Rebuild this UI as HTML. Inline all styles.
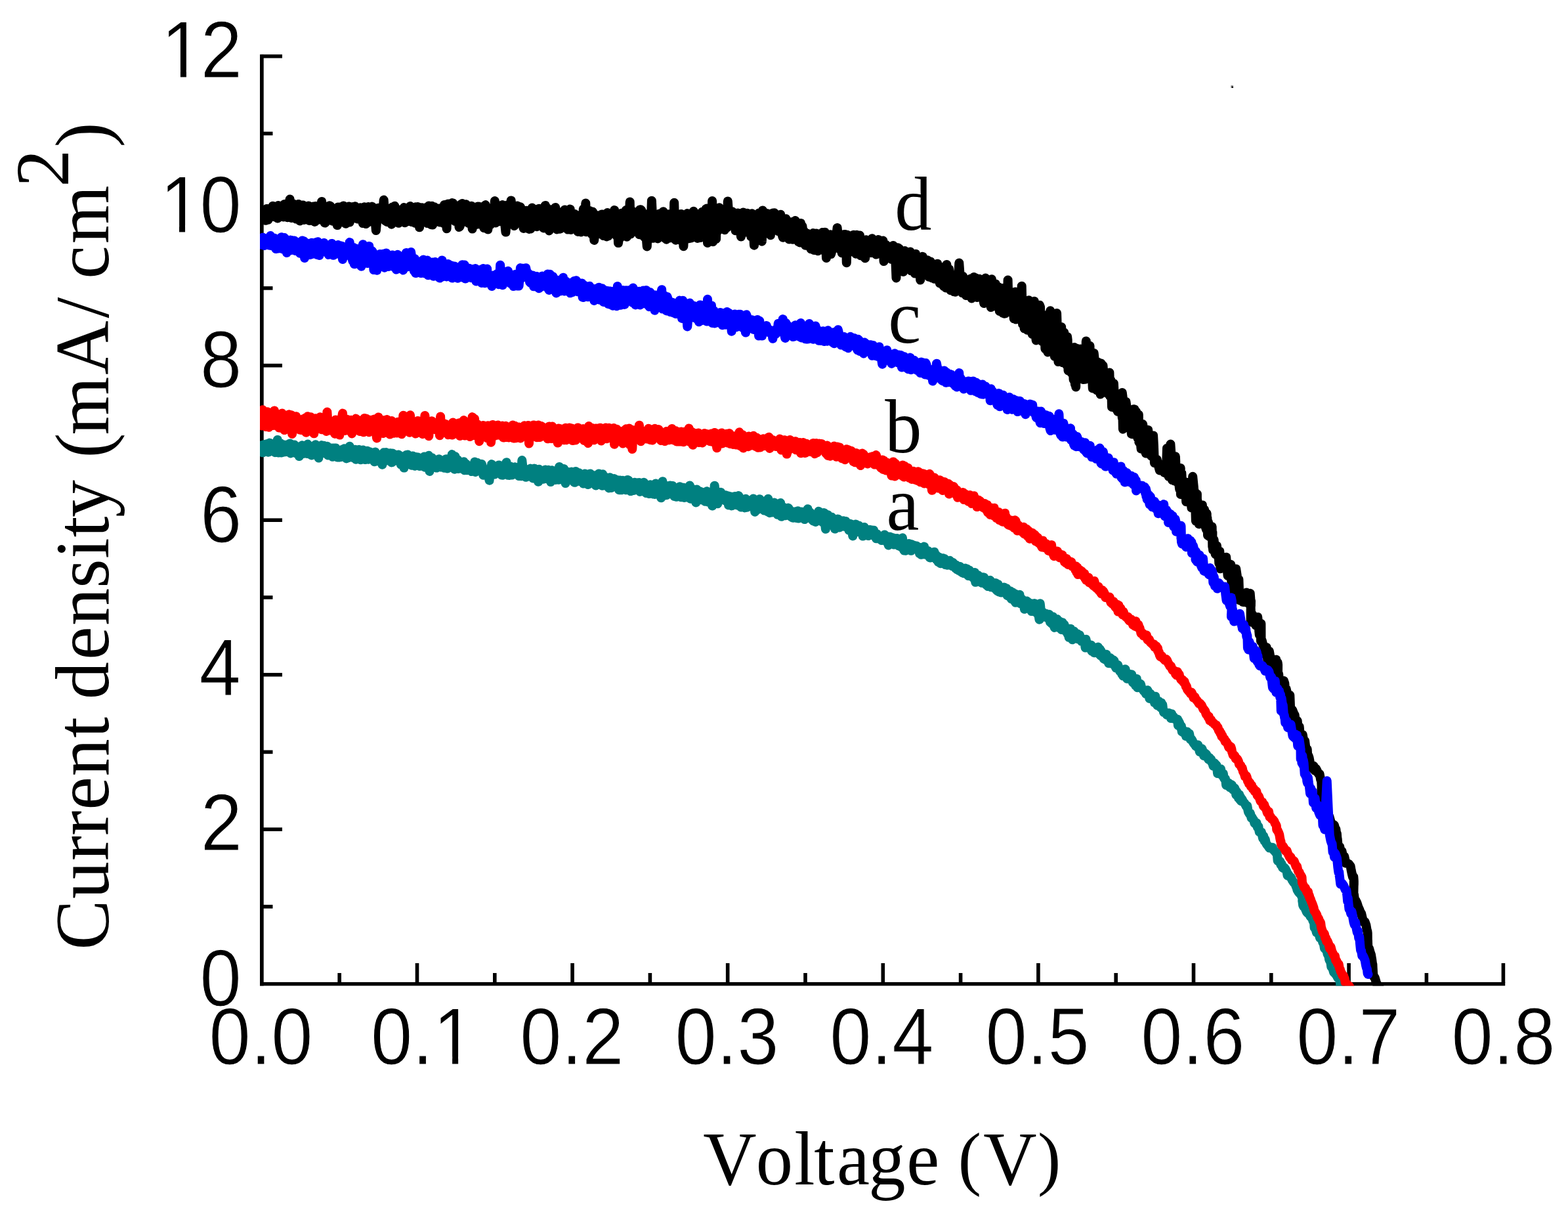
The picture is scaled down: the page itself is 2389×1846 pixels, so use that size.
<!DOCTYPE html>
<html lang="en"><head><meta charset="utf-8"><title>J-V curves</title>
<style>
html,body{margin:0;padding:0;background:#fff;overflow:hidden;}
svg{display:block;}
text{font-kerning:none;}
.tk{font-family:"Liberation Sans",sans-serif;fill:#000;}
.ti{font-family:"Liberation Serif",serif;fill:#000;}
</style></head><body>
<svg width="2389" height="1846" viewBox="0 0 2389 1846" role="img" aria-label="Current density versus voltage curves a, b, c and d">
<rect width="2389" height="1846" fill="#fff"/>
<defs><clipPath id="cp"><rect x="396" y="0" width="2000" height="1501.4"/></clipPath></defs>

<g fill="#000">
<rect x="396" y="82.9" width="5.7" height="1418.5"/>
<rect x="396" y="1495.9" width="1897.2" height="5.5"/>
<rect x="514.4" y="1482" width="5.6" height="15"/>
<rect x="632.7" y="1467" width="5.6" height="30"/>
<rect x="751.0" y="1482" width="5.6" height="15"/>
<rect x="869.3" y="1467" width="5.6" height="30"/>
<rect x="987.6" y="1482" width="5.6" height="15"/>
<rect x="1105.9" y="1467" width="5.6" height="30"/>
<rect x="1224.2" y="1482" width="5.6" height="15"/>
<rect x="1342.5" y="1467" width="5.6" height="30"/>
<rect x="1460.8" y="1482" width="5.6" height="15"/>
<rect x="1579.1" y="1467" width="5.6" height="30"/>
<rect x="1697.4" y="1482" width="5.6" height="15"/>
<rect x="1815.7" y="1467" width="5.6" height="30"/>
<rect x="1934.0" y="1482" width="5.6" height="15"/>
<rect x="2052.3" y="1467" width="5.6" height="30"/>
<rect x="2170.6" y="1482" width="5.6" height="15"/>
<rect x="2287.6" y="1467" width="5.6" height="30"/>
<rect x="398" y="1378.1" width="17.5" height="5.6"/>
<rect x="398" y="1260.4" width="32" height="5.6"/>
<rect x="398" y="1142.6" width="17.5" height="5.6"/>
<rect x="398" y="1024.9" width="32" height="5.6"/>
<rect x="398" y="907.1" width="17.5" height="5.6"/>
<rect x="398" y="789.4" width="32" height="5.6"/>
<rect x="398" y="671.6" width="17.5" height="5.6"/>
<rect x="398" y="553.9" width="32" height="5.6"/>
<rect x="398" y="436.1" width="17.5" height="5.6"/>
<rect x="398" y="318.4" width="32" height="5.6"/>
<rect x="398" y="200.6" width="17.5" height="5.6"/>
<rect x="398" y="82.9" width="32" height="5.6"/>
</g>
<g clip-path="url(#cp)" fill="none" stroke-linejoin="round" stroke-linecap="round">
<polyline stroke="#000000" stroke-width="14.0" points="399.0,324.4 400.2,330.6 401.4,332.6 402.5,320.4 403.7,320.9 404.9,335.8 406.1,318.0 407.3,318.0 408.5,334.7 409.6,328.7 410.8,320.2 412.0,324.6 413.2,328.4 414.4,316.7 415.6,313.8 416.7,330.0 417.9,327.4 419.1,322.7 420.3,329.9 421.5,323.7 422.7,332.5 423.8,313.1 425.0,323.5 426.2,319.9 427.4,315.9 428.6,324.4 429.8,313.2 430.9,329.1 432.1,330.4 433.3,311.0 434.5,319.0 435.7,313.9 436.9,310.2 438.0,331.3 439.2,317.9 440.4,311.6 441.6,303.5 442.8,312.8 444.0,332.1 445.1,313.4 446.3,310.0 447.5,313.4 448.7,316.8 449.9,320.7 451.1,333.5 452.2,329.5 453.4,317.4 454.6,311.0 455.8,313.9 457.0,336.6 458.1,321.9 459.3,330.9 460.5,312.7 461.7,312.5 462.9,335.0 464.1,329.0 465.2,318.8 466.4,319.1 467.6,314.4 468.8,316.2 470.0,313.4 471.2,336.1 472.3,324.3 473.5,315.7 474.7,334.3 475.9,317.2 477.1,314.6 478.3,330.9 479.4,337.9 480.6,313.9 481.8,336.1 483.0,317.2 484.2,315.2 485.4,313.7 486.5,319.5 487.7,334.4 488.9,326.0 490.1,307.0 491.3,317.5 492.5,319.8 493.6,318.4 494.8,339.6 496.0,338.9 497.2,320.3 498.4,323.1 499.6,319.5 500.7,334.6 501.9,313.3 503.1,313.8 504.3,321.9 505.5,317.6 506.7,336.8 507.8,334.5 509.0,328.8 510.2,332.5 511.4,333.3 512.6,335.5 513.8,343.1 514.9,315.5 516.1,331.6 517.3,315.5 518.5,323.4 519.7,335.9 520.8,338.3 522.0,335.4 523.2,313.5 524.4,321.0 525.6,316.3 526.8,340.8 527.9,316.0 529.1,318.3 530.3,321.3 531.5,314.4 532.7,338.6 533.9,333.0 535.0,316.7 536.2,327.2 537.4,315.1 538.6,332.4 539.8,318.5 541.0,314.3 542.1,315.9 543.3,330.7 544.5,333.4 545.7,320.9 546.9,333.6 548.1,321.7 549.2,316.3 550.4,320.7 551.6,323.0 552.8,340.1 554.0,316.0 555.2,315.3 556.3,331.0 557.5,341.1 558.7,340.0 559.9,335.2 561.1,314.9 562.3,337.8 563.4,334.8 564.6,316.6 565.8,325.6 567.0,314.6 568.2,337.8 569.4,335.8 570.5,337.9 571.7,336.9 572.9,351.1 574.1,337.7 575.3,319.2 576.4,316.7 577.6,323.1 578.8,327.7 580.0,320.2 581.2,332.9 582.4,332.8 583.5,319.0 584.7,304.6 585.9,322.1 587.1,336.4 588.3,320.2 589.5,337.9 590.6,323.8 591.8,330.9 593.0,334.7 594.2,329.3 595.4,319.2 596.6,341.7 597.7,315.4 598.9,320.8 600.1,330.5 601.3,313.8 602.5,316.5 603.7,337.6 604.8,337.2 606.0,333.3 607.2,339.8 608.4,336.4 609.6,319.7 610.8,333.4 611.9,320.8 613.1,336.2 614.3,322.1 615.5,316.1 616.7,339.2 617.9,334.7 619.0,336.1 620.2,330.6 621.4,337.1 622.6,324.4 623.8,330.9 625.0,314.1 626.1,330.6 627.3,338.0 628.5,335.4 629.7,337.8 630.9,327.1 632.1,339.7 633.2,315.3 634.4,339.7 635.6,322.1 636.8,315.1 638.0,333.3 639.1,346.3 640.3,324.2 641.5,339.5 642.7,316.3 643.9,333.4 645.1,323.8 646.2,330.1 647.4,328.0 648.6,316.2 649.8,329.2 651.0,340.0 652.2,317.0 653.3,313.4 654.5,314.6 655.7,325.4 656.9,342.3 658.1,313.8 659.3,342.5 660.4,330.0 661.6,315.2 662.8,323.2 664.0,316.9 665.2,335.4 666.4,329.6 667.5,318.5 668.7,317.5 669.9,338.6 671.1,336.0 672.3,322.5 673.5,321.2 674.6,334.7 675.8,340.1 677.0,311.9 678.2,313.5 679.4,318.8 680.6,348.3 681.7,310.9 682.9,310.4 684.1,314.1 685.3,318.7 686.5,333.2 687.7,329.3 688.8,309.1 690.0,309.3 691.2,320.7 692.4,336.2 693.6,337.1 694.7,317.3 695.9,336.4 697.1,337.4 698.3,318.7 699.5,346.0 700.7,344.7 701.8,311.5 703.0,327.8 704.2,310.1 705.4,331.0 706.6,335.1 707.8,337.8 708.9,320.9 710.1,311.3 711.3,337.9 712.5,337.3 713.7,339.8 714.9,329.8 716.0,332.6 717.2,319.1 718.4,313.8 719.6,348.6 720.8,334.6 722.0,318.2 723.1,334.1 724.3,326.5 725.5,323.1 726.7,341.7 727.9,314.5 729.1,325.5 730.2,314.6 731.4,341.5 732.6,325.9 733.8,319.6 735.0,315.1 736.2,332.3 737.3,347.3 738.5,314.3 739.7,312.1 740.9,322.0 742.1,332.2 743.3,349.4 744.4,341.6 745.6,341.9 746.8,342.6 748.0,339.2 749.2,326.0 750.4,329.8 751.5,322.5 752.7,322.6 753.9,306.1 755.1,339.5 756.3,317.8 757.4,312.3 758.6,325.6 759.8,337.4 761.0,324.3 762.2,321.6 763.4,335.7 764.5,315.8 765.7,312.1 766.9,333.6 768.1,330.9 769.3,342.0 770.5,353.6 771.6,340.1 772.8,312.6 774.0,312.9 775.2,334.4 776.4,318.1 777.6,314.1 778.7,305.4 779.9,323.1 781.1,321.9 782.3,333.7 783.5,344.0 784.7,323.2 785.8,317.8 787.0,334.9 788.2,313.5 789.4,324.5 790.6,322.3 791.8,324.9 792.9,315.2 794.1,334.8 795.3,337.9 796.5,342.1 797.7,347.9 798.9,324.7 800.0,339.8 801.2,328.5 802.4,320.8 803.6,347.2 804.8,343.4 806.0,348.9 807.1,345.9 808.3,348.6 809.5,319.3 810.7,316.5 811.9,321.4 813.0,328.6 814.2,342.7 815.4,329.9 816.6,335.5 817.8,345.3 819.0,318.4 820.1,342.8 821.3,317.8 822.5,323.4 823.7,344.4 824.9,343.1 826.1,328.8 827.2,324.8 828.4,347.6 829.6,324.0 830.8,313.0 832.0,323.1 833.2,316.7 834.3,347.0 835.5,319.2 836.7,351.4 837.9,321.7 839.1,324.5 840.3,339.1 841.4,324.4 842.6,327.0 843.8,318.1 845.0,327.2 846.2,315.9 847.4,321.4 848.5,349.4 849.7,323.1 850.9,322.7 852.1,342.4 853.3,348.7 854.5,323.4 855.6,326.3 856.8,343.6 858.0,346.1 859.2,340.0 860.4,319.6 861.6,319.7 862.7,345.3 863.9,343.7 865.1,349.6 866.3,346.2 867.5,328.5 868.7,318.6 869.8,349.9 871.0,343.9 872.2,339.3 873.4,343.7 874.6,327.5 875.7,325.9 876.9,339.8 878.1,332.9 879.3,345.5 880.5,352.9 881.7,350.4 882.8,328.2 884.0,327.7 885.2,353.5 886.4,328.9 887.6,349.9 888.8,318.3 889.9,332.0 891.1,338.0 892.3,309.5 893.5,353.3 894.7,320.7 895.9,344.1 897.0,344.8 898.2,321.0 899.4,352.6 900.6,341.5 901.8,356.9 903.0,322.6 904.1,340.2 905.3,365.9 906.5,346.5 907.7,345.1 908.9,339.7 910.1,328.3 911.2,339.1 912.4,330.5 913.6,356.3 914.8,335.3 916.0,336.4 917.2,326.5 918.3,326.4 919.5,359.0 920.7,328.9 921.9,356.7 923.1,346.4 924.3,360.5 925.4,324.0 926.6,359.6 927.8,354.1 929.0,345.6 930.2,352.0 931.3,352.7 932.5,336.3 933.7,349.3 934.9,326.9 936.1,320.1 937.3,351.3 938.4,338.4 939.6,359.6 940.8,328.4 942.0,370.1 943.2,362.3 944.4,359.6 945.5,361.7 946.7,324.8 947.9,324.9 949.1,327.1 950.3,332.4 951.5,323.2 952.6,324.4 953.8,320.1 955.0,360.7 956.2,332.3 957.4,349.3 958.6,337.0 959.7,307.5 960.9,356.4 962.1,333.1 963.3,344.3 964.5,322.2 965.7,328.9 966.8,326.5 968.0,329.7 969.2,330.4 970.4,346.6 971.6,330.7 972.8,330.4 973.9,357.2 975.1,319.4 976.3,319.2 977.5,320.8 978.7,358.5 979.9,349.6 981.0,353.6 982.2,361.6 983.4,326.3 984.6,360.4 985.8,375.4 987.0,343.3 988.1,351.9 989.3,356.4 990.5,327.6 991.7,338.7 992.9,305.7 994.0,329.4 995.2,362.8 996.4,360.5 997.6,347.8 998.8,356.6 1000.0,360.7 1001.1,331.7 1002.3,363.4 1003.5,337.7 1004.7,325.4 1005.9,345.5 1007.1,349.3 1008.2,353.9 1009.4,353.1 1010.6,322.2 1011.8,352.0 1013.0,362.7 1014.2,353.7 1015.3,364.7 1016.5,345.1 1017.7,359.5 1018.9,326.3 1020.1,362.6 1021.3,338.9 1022.4,362.2 1023.6,333.5 1024.8,352.7 1026.0,361.5 1027.2,308.8 1028.4,352.7 1029.5,365.7 1030.7,325.4 1031.9,325.9 1033.1,349.1 1034.3,365.2 1035.5,355.6 1036.6,333.4 1037.8,325.9 1039.0,339.9 1040.2,342.1 1041.4,375.2 1042.6,352.2 1043.7,331.4 1044.9,362.1 1046.1,331.8 1047.3,325.1 1048.5,334.0 1049.6,363.3 1050.8,326.4 1052.0,330.6 1053.2,362.5 1054.4,333.2 1055.6,359.3 1056.7,321.8 1057.9,360.5 1059.1,328.0 1060.3,325.7 1061.5,354.7 1062.7,362.9 1063.8,361.7 1065.0,354.4 1066.2,359.8 1067.4,361.9 1068.6,344.8 1069.8,322.8 1070.9,356.8 1072.1,332.3 1073.3,328.4 1074.5,339.4 1075.7,318.2 1076.9,317.6 1078.0,370.0 1079.2,345.3 1080.4,351.6 1081.6,358.5 1082.8,353.8 1084.0,357.7 1085.1,306.0 1086.3,368.3 1087.5,344.0 1088.7,318.4 1089.9,363.3 1091.1,364.0 1092.2,322.4 1093.4,352.2 1094.6,334.1 1095.8,316.2 1097.0,342.7 1098.2,333.1 1099.3,318.7 1100.5,325.3 1101.7,327.2 1102.9,329.0 1104.1,350.3 1105.3,322.8 1106.4,334.5 1107.6,346.7 1108.8,306.4 1110.0,322.1 1111.2,321.2 1112.3,325.2 1113.5,326.5 1114.7,324.8 1115.9,322.3 1117.1,327.0 1118.3,327.7 1119.4,339.8 1120.6,351.3 1121.8,333.9 1123.0,326.7 1124.2,324.5 1125.4,330.4 1126.5,327.3 1127.7,341.1 1128.9,360.4 1130.1,355.1 1131.3,328.8 1132.5,323.5 1133.6,324.5 1134.8,338.4 1136.0,334.9 1137.2,353.6 1138.4,324.8 1139.6,330.4 1140.7,353.5 1141.9,348.1 1143.1,344.7 1144.3,360.5 1145.5,325.2 1146.7,327.7 1147.8,347.2 1149.0,373.7 1150.2,362.0 1151.4,361.7 1152.6,347.7 1153.8,354.4 1154.9,352.0 1156.1,324.6 1157.3,347.8 1158.5,330.3 1159.7,332.4 1160.9,367.7 1162.0,320.4 1163.2,356.5 1164.4,351.8 1165.6,352.9 1166.8,329.2 1167.9,334.5 1169.1,325.3 1170.3,346.8 1171.5,355.4 1172.7,353.4 1173.9,358.2 1175.0,328.4 1176.2,350.8 1177.4,324.4 1178.6,343.7 1179.8,324.3 1181.0,344.2 1182.1,344.4 1183.3,332.8 1184.5,333.2 1185.7,352.2 1186.9,340.1 1188.1,336.5 1189.2,326.8 1190.4,332.5 1191.6,357.9 1192.8,361.7 1194.0,337.1 1195.2,359.7 1196.3,360.1 1197.5,333.3 1198.7,335.6 1199.9,356.1 1201.1,337.8 1202.3,364.6 1203.4,341.0 1204.6,359.2 1205.8,359.0 1207.0,337.9 1208.2,364.8 1209.4,342.8 1210.5,336.9 1211.7,336.0 1212.9,349.5 1214.1,360.5 1215.3,344.0 1216.5,368.3 1217.6,345.1 1218.8,369.6 1220.0,339.9 1221.2,346.8 1222.4,344.4 1223.6,354.8 1224.7,351.5 1225.9,353.7 1227.1,373.8 1228.3,365.6 1229.5,367.2 1230.6,355.8 1231.8,374.8 1233.0,363.2 1234.2,374.0 1235.4,379.2 1236.6,370.5 1237.7,360.7 1238.9,355.0 1240.1,381.0 1241.3,377.4 1242.5,378.8 1243.7,355.4 1244.8,363.3 1246.0,382.3 1247.2,357.3 1248.4,381.1 1249.6,371.7 1250.8,357.4 1251.9,362.8 1253.1,354.1 1254.3,378.3 1255.5,380.2 1256.7,353.7 1257.9,361.5 1259.0,393.0 1260.2,358.8 1261.4,374.0 1262.6,383.8 1263.8,375.9 1265.0,357.2 1266.1,387.0 1267.3,382.5 1268.5,376.1 1269.7,363.8 1270.9,377.0 1272.1,366.1 1273.2,357.7 1274.4,357.8 1275.6,346.9 1276.8,359.2 1278.0,361.4 1279.2,379.4 1280.3,377.3 1281.5,377.7 1282.7,385.3 1283.9,357.4 1285.1,366.4 1286.2,357.0 1287.4,367.7 1288.6,357.1 1289.8,400.2 1291.0,357.8 1292.2,366.7 1293.3,384.0 1294.5,363.1 1295.7,383.5 1296.9,361.8 1298.1,363.5 1299.3,370.9 1300.4,357.7 1301.6,369.9 1302.8,378.6 1304.0,386.7 1305.2,357.8 1306.4,386.3 1307.5,378.6 1308.7,379.2 1309.9,358.4 1311.1,389.2 1312.3,365.1 1313.5,378.5 1314.6,378.3 1315.8,390.8 1317.0,381.6 1318.2,393.2 1319.4,365.2 1320.6,384.4 1321.7,381.5 1322.9,378.4 1324.1,383.9 1325.3,381.0 1326.5,369.9 1327.7,385.1 1328.8,363.2 1330.0,376.7 1331.2,375.5 1332.4,367.5 1333.6,383.5 1334.8,387.6 1335.9,366.0 1337.1,371.1 1338.3,365.0 1339.5,386.1 1340.7,366.2 1341.9,370.5 1343.0,378.2 1344.2,378.7 1345.4,366.5 1346.6,398.0 1347.8,372.3 1348.9,389.1 1350.1,372.9 1351.3,389.3 1352.5,377.7 1353.7,377.0 1354.9,383.4 1356.0,390.6 1357.2,391.5 1358.4,395.0 1359.6,377.9 1360.8,373.9 1362.0,378.5 1363.1,381.2 1364.3,394.8 1365.5,423.4 1366.7,382.4 1367.9,377.3 1369.1,396.6 1370.2,378.7 1371.4,394.1 1372.6,401.2 1373.8,399.7 1375.0,382.2 1376.2,413.9 1377.3,409.9 1378.5,382.1 1379.7,404.1 1380.9,393.2 1382.1,403.0 1383.3,392.5 1384.4,385.4 1385.6,402.5 1386.8,383.5 1388.0,412.3 1389.2,411.0 1390.4,394.3 1391.5,403.3 1392.7,403.1 1393.9,416.6 1395.1,386.8 1396.3,393.5 1397.5,397.3 1398.6,413.0 1399.8,411.7 1401.0,398.6 1402.2,426.5 1403.4,410.1 1404.5,398.8 1405.7,390.8 1406.9,410.5 1408.1,401.2 1409.3,396.8 1410.5,396.1 1411.6,407.4 1412.8,396.3 1414.0,401.2 1415.2,421.7 1416.4,405.8 1417.6,398.5 1418.7,410.5 1419.9,423.3 1421.1,422.7 1422.3,418.3 1423.5,424.8 1424.7,421.9 1425.8,420.4 1427.0,409.2 1428.2,401.7 1429.4,424.1 1430.6,421.9 1431.8,431.4 1432.9,409.3 1434.1,430.8 1435.3,408.0 1436.5,434.0 1437.7,436.0 1438.9,406.2 1440.0,414.1 1441.2,438.5 1442.4,402.9 1443.6,431.7 1444.8,412.0 1446.0,409.7 1447.1,416.5 1448.3,442.2 1449.5,439.4 1450.7,424.4 1451.9,439.7 1453.1,444.1 1454.2,421.8 1455.4,444.8 1456.6,421.9 1457.8,424.2 1459.0,416.8 1460.2,420.2 1461.3,400.4 1462.5,417.3 1463.7,437.9 1464.9,421.7 1466.1,446.3 1467.2,421.0 1468.4,423.5 1469.6,425.6 1470.8,441.8 1472.0,450.1 1473.2,448.8 1474.3,448.8 1475.5,447.1 1476.7,441.5 1477.9,429.8 1479.1,424.5 1480.3,454.4 1481.4,433.3 1482.6,448.0 1483.8,421.9 1485.0,431.9 1486.2,423.2 1487.4,432.1 1488.5,453.0 1489.7,432.1 1490.9,451.9 1492.1,424.8 1493.3,434.8 1494.5,436.2 1495.6,444.3 1496.8,429.2 1498.0,455.0 1499.2,462.0 1500.4,460.1 1501.5,423.5 1502.7,443.3 1503.9,435.4 1505.1,451.4 1506.3,426.2 1507.5,459.4 1508.6,440.3 1509.8,468.1 1511.0,425.2 1512.2,441.4 1513.3,446.5 1514.5,466.2 1515.7,463.8 1516.9,432.5 1518.1,438.0 1519.2,464.6 1520.4,444.5 1521.6,437.4 1522.8,474.0 1524.1,471.4 1525.4,443.2 1526.6,458.9 1527.8,476.8 1529.0,438.7 1530.1,477.7 1531.2,477.6 1532.3,471.9 1533.4,470.9 1534.5,471.7 1535.6,426.5 1536.7,467.8 1537.9,443.1 1539.1,468.3 1540.3,475.5 1541.4,461.6 1542.5,477.6 1543.6,460.8 1544.7,485.3 1545.7,482.5 1546.8,444.4 1548.0,486.6 1549.2,454.5 1550.5,446.2 1551.8,448.6 1553.0,458.8 1554.2,476.4 1555.4,460.7 1556.7,435.7 1558.0,493.8 1559.3,465.4 1560.6,500.3 1561.9,460.0 1563.1,493.3 1564.2,467.5 1565.1,502.8 1565.9,493.4 1566.6,496.1 1567.5,457.3 1568.6,501.8 1569.8,472.0 1571.2,503.1 1572.7,509.1 1574.3,462.6 1575.8,458.8 1577.3,507.7 1578.7,518.4 1580.1,516.5 1581.4,484.7 1582.7,515.4 1583.9,464.8 1585.0,467.4 1586.1,504.4 1587.2,501.0 1588.4,520.5 1589.7,479.8 1591.0,495.5 1592.4,531.3 1593.7,486.9 1594.8,494.4 1595.7,515.4 1596.4,536.4 1597.2,485.4 1598.1,524.1 1599.1,501.1 1600.2,473.3 1601.2,494.2 1602.1,508.9 1603.0,522.6 1603.8,505.7 1604.7,518.5 1605.7,530.3 1606.8,542.8 1608.3,527.6 1610.1,476.9 1612.4,551.1 1614.8,502.5 1617.2,498.1 1618.9,552.2 1620.1,510.7 1621.3,506.4 1622.5,519.9 1623.7,518.5 1624.7,520.4 1625.2,556.2 1625.6,519.2 1626.1,512.9 1626.7,517.8 1627.5,564.5 1628.4,532.0 1629.5,528.8 1630.8,560.0 1632.3,567.9 1634.0,545.3 1635.6,578.5 1636.9,529.1 1637.9,585.5 1638.6,554.9 1639.2,589.5 1639.8,533.8 1640.4,530.7 1641.3,535.1 1642.6,573.0 1644.2,571.9 1646.1,531.5 1647.9,543.3 1649.4,571.0 1650.5,578.0 1651.1,563.6 1651.7,573.7 1652.4,542.3 1653.4,577.8 1654.8,519.4 1656.3,553.6 1657.7,545.8 1659.1,538.4 1660.5,526.7 1661.7,575.5 1662.8,540.1 1663.8,569.7 1664.8,591.6 1665.7,544.0 1666.7,537.9 1667.7,547.2 1668.7,565.8 1669.9,563.7 1671.3,594.7 1673.1,551.8 1674.9,558.3 1676.5,600.5 1677.8,553.6 1678.8,564.4 1679.7,572.3 1680.5,556.7 1681.4,569.4 1682.5,593.0 1683.9,594.9 1685.6,595.9 1687.3,599.4 1689.0,598.9 1690.4,567.5 1691.4,603.7 1692.0,601.3 1692.3,578.8 1692.6,590.0 1693.1,582.6 1694.0,620.0 1695.3,587.3 1696.9,584.0 1698.8,621.6 1700.9,621.7 1703.0,626.8 1705.1,621.0 1707.1,603.5 1708.9,609.2 1710.2,619.0 1710.9,653.7 1710.8,639.6 1710.3,604.1 1709.7,636.1 1709.8,598.0 1710.8,606.1 1712.9,647.8 1715.5,612.0 1718.0,630.4 1719.8,651.8 1720.9,642.8 1721.7,632.1 1722.6,648.5 1723.9,660.8 1725.4,661.3 1727.1,623.3 1728.5,623.5 1729.8,631.2 1731.1,627.2 1732.4,663.2 1733.6,667.7 1734.4,632.3 1734.8,631.6 1734.9,643.2 1735.0,668.3 1735.3,673.4 1736.1,655.5 1737.3,670.8 1738.6,683.5 1740.0,683.7 1741.2,646.1 1742.6,680.1 1744.1,684.1 1745.8,690.4 1747.6,664.8 1749.2,654.8 1750.7,671.2 1751.9,666.4 1752.9,668.9 1753.8,694.5 1754.7,689.5 1755.4,692.0 1755.9,692.1 1756.5,665.0 1757.1,663.4 1757.9,678.1 1758.9,705.0 1760.0,698.3 1761.2,705.5 1762.6,699.7 1764.5,707.9 1766.9,716.5 1769.5,707.8 1772.0,714.8 1774.0,719.9 1775.5,713.2 1776.8,717.3 1778.0,682.7 1779.3,682.9 1780.4,725.6 1781.2,693.2 1781.9,697.5 1782.6,692.9 1783.4,676.6 1784.5,692.9 1785.9,731.0 1787.5,705.9 1789.2,732.4 1790.9,695.2 1792.6,733.8 1794.4,718.9 1795.9,734.6 1797.2,745.1 1798.1,741.8 1798.5,719.0 1798.7,712.9 1798.9,753.1 1799.3,745.5 1800.3,720.4 1801.8,745.6 1803.7,749.5 1805.5,734.0 1807.2,764.3 1808.7,735.9 1810.3,734.7 1811.9,742.3 1813.6,745.4 1815.4,773.5 1817.2,725.8 1819.0,743.7 1820.7,755.4 1821.9,793.6 1823.0,776.7 1823.7,783.5 1823.9,752.5 1823.9,771.6 1824.2,761.2 1824.7,764.5 1825.6,789.3 1826.7,798.2 1828.0,770.1 1829.2,786.5 1830.5,775.2 1831.9,769.4 1833.4,795.3 1835.1,776.2 1836.7,802.6 1838.0,806.7 1838.7,782.1 1839.1,805.1 1839.4,788.3 1840.0,815.4 1841.0,795.2 1842.4,817.1 1844.0,817.8 1845.5,817.0 1846.6,802.0 1847.3,830.4 1847.4,811.1 1847.3,832.9 1847.1,821.2 1847.3,822.0 1848.1,837.8 1849.6,822.4 1851.7,844.0 1853.9,831.3 1855.6,847.9 1856.8,848.9 1857.3,858.2 1857.7,839.4 1858.3,839.6 1859.4,866.3 1861.1,853.3 1863.2,849.5 1865.7,865.4 1868.2,848.7 1870.6,877.0 1872.6,874.1 1874.2,873.3 1875.3,859.7 1876.0,882.7 1876.5,887.8 1876.9,899.5 1877.5,892.4 1878.4,866.8 1879.7,892.7 1881.4,898.3 1883.2,866.4 1884.7,876.4 1885.8,895.6 1886.6,885.4 1887.4,882.8 1888.5,914.2 1890.0,914.1 1891.7,911.1 1893.6,916.8 1895.4,917.1 1897.3,909.9 1899.3,902.4 1901.3,909.1 1903.2,920.4 1904.7,903.7 1905.7,917.0 1906.0,915.3 1905.9,923.2 1905.7,921.8 1905.6,947.4 1905.7,927.8 1906.2,934.9 1907.1,944.6 1908.5,936.3 1910.6,946.7 1913.3,952.5 1916.2,939.9 1918.8,967.0 1920.6,959.5 1921.4,949.7 1921.5,974.9 1921.4,955.5 1921.3,974.7 1921.2,968.9 1921.0,965.3 1920.9,970.8 1921.0,976.6 1921.6,975.9 1922.8,975.8 1924.4,982.3 1925.9,985.5 1927.2,996.4 1928.4,985.7 1929.7,986.0 1931.4,1006.7 1933.8,991.8 1936.7,1008.1 1939.6,1008.7 1942.2,1019.2 1944.3,1004.8 1945.8,1023.1 1946.7,1009.5 1947.1,1012.9 1947.0,1027.2 1946.7,1018.5 1946.6,1031.3 1947.0,1035.8 1948.1,1026.6 1949.9,1043.2 1952.2,1037.3 1954.3,1051.2 1956.0,1036.9 1957.3,1040.7 1958.4,1054.6 1959.6,1049.2 1960.9,1054.6 1962.5,1067.5 1964.0,1059.6 1965.3,1058.8 1966.2,1081.0 1966.5,1089.6 1966.4,1080.6 1966.5,1083.4 1966.9,1080.6 1967.9,1080.0 1969.4,1081.9 1971.0,1086.2 1972.7,1089.2 1974.3,1103.6 1975.7,1098.4 1976.7,1098.0 1977.7,1109.8 1978.6,1109.0 1979.7,1107.0 1981.1,1123.1 1982.8,1125.9 1984.8,1119.3 1986.7,1131.2 1988.1,1128.4 1989.0,1135.8 1989.6,1138.8 1990.1,1142.9 1990.8,1141.2 1991.7,1141.2 1992.6,1158.3 1993.5,1151.1 1994.6,1154.3 1996.1,1162.3 1997.9,1164.8 1999.8,1170.6 2001.6,1166.7 2003.3,1173.9 2005.0,1170.6 2006.8,1174.2 2008.8,1178.6 2010.6,1179.1 2012.1,1187.2 2013.1,1188.4 2013.6,1199.0 2013.7,1191.5 2013.5,1199.7 2013.2,1208.4 2012.9,1211.0 2013.0,1214.1 2013.8,1218.4 2015.3,1220.5 2017.2,1219.3 2019.0,1228.6 2020.2,1224.3 2020.8,1235.0 2021.3,1233.9 2022.0,1236.6 2023.4,1241.3 2025.4,1244.0 2027.6,1251.8 2029.7,1254.9 2031.4,1258.0 2032.9,1256.8 2034.3,1261.9 2035.4,1263.0 2036.3,1272.0 2036.9,1270.0 2037.3,1275.8 2037.7,1277.8 2038.5,1286.9 2039.7,1290.9 2041.2,1289.6 2042.8,1297.9 2044.5,1296.4 2046.2,1304.4 2048.2,1304.3 2050.5,1314.8 2052.9,1314.9 2055.3,1316.2 2057.6,1319.2 2058.8,1326.1 2059.9,1331.2 2061.1,1336.0 2062.3,1335.4 2062.6,1338.9 2062.8,1342.0 2062.8,1346.6 2062.6,1349.8 2062.4,1361.4 2062.5,1362.4 2063.0,1362.3 2064.0,1370.1 2065.5,1371.4 2067.4,1375.2 2069.3,1381.0 2071.0,1384.8 2072.6,1389.1 2074.2,1391.6 2075.9,1398.8 2077.8,1404.7 2079.6,1404.1 2081.3,1408.8 2082.6,1416.3 2083.4,1418.7 2083.7,1421.3 2083.8,1431.3 2083.9,1432.1 2084.2,1440.1 2084.9,1443.4 2086.1,1444.8 2087.6,1450.4 2089.0,1454.4 2090.2,1461.6 2091.0,1467.8 2091.4,1468.9 2091.6,1473.6 2092.2,1483.5 2093.4,1488.2 2094.7,1489.0 2097.2,1497.7 2100.4,1502.2 2104.0,1507.9 2107.2,1511.8 2109.3,1518.1"/>
<polyline stroke="#008080" stroke-width="14.0" points="399.0,678.2 400.2,689.3 401.4,677.3 402.5,677.1 403.7,679.2 404.9,677.5 406.1,685.9 407.3,676.0 408.5,688.7 409.6,688.3 410.8,674.6 412.0,683.5 413.2,675.6 414.4,677.5 415.6,680.0 416.7,680.7 417.9,681.1 419.1,689.2 420.3,677.5 421.5,676.6 422.7,670.0 423.8,689.5 425.0,689.3 426.2,688.8 427.4,675.3 428.6,689.6 429.8,685.9 430.9,689.0 432.1,680.3 433.3,677.5 434.5,688.2 435.7,686.4 436.9,688.1 438.0,677.5 439.2,676.7 440.4,688.1 441.6,675.5 442.8,690.4 444.0,676.9 445.1,685.8 446.3,681.1 447.5,679.5 448.7,677.5 449.9,688.7 451.1,690.4 452.2,688.0 453.4,686.1 454.6,687.8 455.8,695.1 457.0,685.3 458.1,690.4 459.3,679.1 460.5,678.3 461.7,690.9 462.9,690.8 464.1,682.6 465.2,689.1 466.4,688.4 467.6,690.9 468.8,676.6 470.0,690.4 471.2,683.6 472.3,682.0 473.5,687.7 474.7,693.5 475.9,681.9 477.1,679.5 478.3,691.0 479.4,689.8 480.6,677.3 481.8,681.7 483.0,689.4 484.2,691.0 485.4,697.5 486.5,679.7 487.7,691.7 488.9,689.2 490.1,678.1 491.3,680.0 492.5,680.0 493.6,678.8 494.8,690.1 496.0,682.3 497.2,690.7 498.4,679.7 499.6,693.5 500.7,691.4 501.9,692.9 503.1,690.5 504.3,686.6 505.5,682.5 506.7,695.8 507.8,682.4 509.0,689.8 510.2,682.5 511.4,682.6 512.6,693.7 513.8,696.4 514.9,688.6 516.1,695.6 517.3,696.6 518.5,691.7 519.7,695.9 520.8,686.4 522.0,684.6 523.2,685.2 524.4,683.2 525.6,684.0 526.8,696.3 527.9,698.4 529.1,684.2 530.3,696.2 531.5,697.1 532.7,679.8 533.9,691.8 535.0,691.3 536.2,696.2 537.4,687.1 538.6,697.2 539.8,686.6 541.0,684.8 542.1,699.8 543.3,685.6 544.5,687.0 545.7,685.3 546.9,684.9 548.1,686.3 549.2,700.2 550.4,697.3 551.6,690.7 552.8,685.4 554.0,699.5 555.2,692.9 556.3,700.1 557.5,694.1 558.7,686.8 559.9,686.8 561.1,699.7 562.3,689.0 563.4,688.1 564.6,692.1 565.8,689.9 567.0,690.2 568.2,700.6 569.4,694.0 570.5,703.3 571.7,688.4 572.9,691.2 574.1,702.4 575.3,693.9 576.4,701.2 577.6,694.1 578.8,693.7 580.0,703.1 581.2,692.4 582.4,707.7 583.5,698.7 584.7,689.2 585.9,690.0 587.1,691.9 588.3,689.1 589.5,701.4 590.6,699.7 591.8,694.0 593.0,695.5 594.2,690.2 595.4,695.4 596.6,704.4 597.7,690.5 598.9,701.9 600.1,702.6 601.3,693.1 602.5,694.3 603.7,692.8 604.8,700.9 606.0,695.9 607.2,692.6 608.4,694.8 609.6,694.3 610.8,707.5 611.9,702.5 613.1,698.9 614.3,699.3 615.5,712.6 616.7,708.1 617.9,697.3 619.0,692.9 620.2,694.6 621.4,692.5 622.6,695.0 623.8,703.5 625.0,696.0 626.1,707.3 627.3,708.8 628.5,694.6 629.7,707.3 630.9,705.3 632.1,709.8 633.2,696.0 634.4,707.3 635.6,698.4 636.8,696.6 638.0,697.6 639.1,710.0 640.3,701.9 641.5,701.0 642.7,709.7 643.9,709.7 645.1,710.3 646.2,695.6 647.4,711.8 648.6,707.9 649.8,711.0 651.0,709.9 652.2,711.3 653.3,693.8 654.5,717.9 655.7,698.1 656.9,708.9 658.1,697.3 659.3,701.6 660.4,700.7 661.6,701.0 662.8,711.2 664.0,712.3 665.2,712.6 666.4,708.7 667.5,711.1 668.7,699.3 669.9,702.4 671.1,711.5 672.3,704.6 673.5,705.8 674.6,711.7 675.8,700.9 677.0,712.8 678.2,711.2 679.4,699.2 680.6,704.3 681.7,713.6 682.9,701.8 684.1,698.6 685.3,700.6 686.5,708.1 687.7,699.9 688.8,692.1 690.0,694.3 691.2,712.9 692.4,714.7 693.6,695.2 694.7,709.0 695.9,711.2 697.1,700.1 698.3,714.1 699.5,712.5 700.7,711.6 701.8,707.0 703.0,713.4 704.2,714.0 705.4,703.8 706.6,703.2 707.8,716.3 708.9,708.0 710.1,706.5 711.3,716.3 712.5,713.7 713.7,714.2 714.9,715.2 716.0,715.8 717.2,713.9 718.4,718.1 719.6,715.8 720.8,716.5 722.0,716.7 723.1,703.5 724.3,719.0 725.5,716.5 726.7,704.6 727.9,716.3 729.1,716.3 730.2,712.1 731.4,708.3 732.6,713.9 733.8,706.8 735.0,710.3 736.2,723.7 737.3,717.8 738.5,715.0 739.7,720.4 740.9,720.7 742.1,721.1 743.3,716.7 744.4,726.3 745.6,731.7 746.8,717.0 748.0,715.6 749.2,707.1 750.4,708.9 751.5,722.9 752.7,720.4 753.9,722.4 755.1,711.8 756.3,713.8 757.4,718.2 758.6,713.4 759.8,708.4 761.0,715.0 762.2,719.9 763.4,713.0 764.5,723.5 765.7,723.7 766.9,708.9 768.1,714.3 769.3,719.4 770.5,714.3 771.6,704.2 772.8,712.8 774.0,723.8 775.2,713.6 776.4,723.9 777.6,710.4 778.7,723.6 779.9,723.6 781.1,719.4 782.3,713.5 783.5,715.0 784.7,711.3 785.8,713.4 787.0,718.8 788.2,719.1 789.4,717.2 790.6,725.0 791.8,713.1 792.9,724.1 794.1,725.2 795.3,701.1 796.5,711.7 797.7,725.1 798.9,724.0 800.0,718.8 801.2,726.8 802.4,715.0 803.6,724.5 804.8,723.5 806.0,717.3 807.1,725.7 808.3,713.6 809.5,716.4 810.7,720.3 811.9,728.5 813.0,726.1 814.2,713.6 815.4,724.3 816.6,714.8 817.8,718.6 819.0,729.3 820.1,733.8 821.3,714.8 822.5,729.2 823.7,716.4 824.9,724.5 826.1,717.2 827.2,729.8 828.4,727.4 829.6,728.1 830.8,715.4 832.0,719.2 833.2,729.1 834.3,718.3 835.5,715.8 836.7,729.4 837.9,718.1 839.1,734.1 840.3,717.1 841.4,716.3 842.6,722.8 843.8,726.7 845.0,728.7 846.2,730.9 847.4,724.4 848.5,727.8 849.7,719.4 850.9,730.8 852.1,711.1 853.3,715.9 854.5,718.2 855.6,717.4 856.8,727.6 858.0,717.8 859.2,714.1 860.4,720.4 861.6,736.1 862.7,720.1 863.9,719.4 865.1,720.3 866.3,719.0 867.5,729.0 868.7,726.3 869.8,729.9 871.0,718.6 872.2,731.8 873.4,727.5 874.6,734.4 875.7,734.8 876.9,718.0 878.1,729.5 879.3,721.6 880.5,731.6 881.7,720.3 882.8,729.6 884.0,733.3 885.2,730.1 886.4,723.4 887.6,733.7 888.8,736.6 889.9,723.6 891.1,721.4 892.3,726.1 893.5,726.6 894.7,726.5 895.9,738.0 897.0,724.3 898.2,721.9 899.4,721.6 900.6,729.7 901.8,725.5 903.0,730.3 904.1,735.7 905.3,727.0 906.5,724.2 907.7,739.5 908.9,725.4 910.1,727.5 911.2,723.6 912.4,721.4 913.6,726.9 914.8,738.2 916.0,730.7 917.2,739.7 918.3,722.3 919.5,739.4 920.7,725.7 921.9,730.1 923.1,729.7 924.3,731.5 925.4,728.4 926.6,729.8 927.8,743.4 929.0,727.2 930.2,734.9 931.3,743.1 932.5,734.2 933.7,734.0 934.9,737.0 936.1,729.1 937.3,730.3 938.4,741.4 939.6,739.8 940.8,731.3 942.0,736.4 943.2,746.3 944.4,731.6 945.5,744.2 946.7,746.3 947.9,739.9 949.1,731.8 950.3,737.6 951.5,744.9 952.6,743.2 953.8,746.2 955.0,739.8 956.2,730.9 957.4,731.4 958.6,746.3 959.7,741.7 960.9,748.1 962.1,747.4 963.3,744.4 964.5,743.7 965.7,746.9 966.8,734.7 968.0,738.0 969.2,745.2 970.4,742.7 971.6,735.2 972.8,737.8 973.9,735.1 975.1,748.9 976.3,736.1 977.5,746.3 978.7,736.2 979.9,735.8 981.0,734.8 982.2,739.6 983.4,749.9 984.6,751.0 985.8,745.0 987.0,750.7 988.1,747.6 989.3,752.1 990.5,738.2 991.7,739.0 992.9,739.3 994.0,750.8 995.2,752.5 996.4,750.4 997.6,753.0 998.8,736.5 1000.0,738.6 1001.1,738.6 1002.3,741.3 1003.5,742.1 1004.7,742.9 1005.9,739.2 1007.1,758.3 1008.2,749.8 1009.4,733.2 1010.6,739.6 1011.8,754.7 1013.0,741.4 1014.2,744.2 1015.3,754.1 1016.5,740.3 1017.7,744.7 1018.9,743.5 1020.1,739.9 1021.3,739.5 1022.4,741.8 1023.6,748.4 1024.8,740.0 1026.0,742.1 1027.2,755.9 1028.4,747.6 1029.5,743.6 1030.7,756.8 1031.9,753.4 1033.1,745.2 1034.3,755.5 1035.5,741.3 1036.6,745.3 1037.8,757.3 1039.0,750.8 1040.2,742.7 1041.4,742.8 1042.6,757.9 1043.7,747.4 1044.9,757.6 1046.1,745.8 1047.3,753.4 1048.5,745.9 1049.6,757.8 1050.8,739.4 1052.0,759.7 1053.2,751.5 1054.4,757.4 1055.6,745.2 1056.7,755.5 1057.9,757.7 1059.1,758.0 1060.3,765.4 1061.5,745.4 1062.7,756.5 1063.8,759.0 1065.0,755.3 1066.2,748.3 1067.4,751.9 1068.6,749.3 1069.8,761.6 1070.9,759.1 1072.1,758.2 1073.3,760.1 1074.5,763.7 1075.7,763.7 1076.9,748.3 1078.0,748.9 1079.2,764.7 1080.4,753.8 1081.6,761.9 1082.8,754.4 1084.0,763.1 1085.1,770.5 1086.3,753.7 1087.5,762.8 1088.7,739.7 1089.9,751.2 1091.1,759.5 1092.2,766.1 1093.4,767.2 1094.6,752.1 1095.8,755.9 1097.0,753.5 1098.2,749.8 1099.3,757.6 1100.5,756.5 1101.7,758.7 1102.9,758.0 1104.1,762.0 1105.3,754.2 1106.4,754.5 1107.6,756.9 1108.8,755.3 1110.0,769.4 1111.2,756.0 1112.3,768.8 1113.5,758.4 1114.7,770.4 1115.9,756.7 1117.1,765.1 1118.3,767.4 1119.4,756.0 1120.6,765.2 1121.8,763.7 1123.0,769.5 1124.2,761.2 1125.4,755.1 1126.5,757.3 1127.7,768.9 1128.9,772.5 1130.1,770.6 1131.3,771.0 1132.5,770.7 1133.6,761.1 1134.8,773.4 1136.0,759.8 1137.2,765.9 1138.4,772.7 1139.6,771.7 1140.7,762.7 1141.9,763.7 1143.1,769.3 1144.3,765.4 1145.5,762.5 1146.7,764.3 1147.8,759.5 1149.0,767.7 1150.2,779.7 1151.4,763.3 1152.6,762.5 1153.8,776.5 1154.9,776.0 1156.1,770.0 1157.3,760.2 1158.5,774.4 1159.7,769.6 1160.9,765.0 1162.0,764.4 1163.2,776.4 1164.4,777.5 1165.6,765.6 1166.8,777.9 1167.9,765.6 1169.1,779.2 1170.3,759.8 1171.5,773.3 1172.7,781.2 1173.9,778.5 1175.0,775.4 1176.2,780.4 1177.4,773.5 1178.6,771.1 1179.8,765.5 1181.0,766.8 1182.1,778.7 1183.3,772.2 1184.5,783.7 1185.7,782.1 1186.9,771.7 1188.1,780.6 1189.2,766.1 1190.4,786.8 1191.6,781.8 1192.8,772.2 1194.0,782.2 1195.2,782.0 1196.3,785.3 1197.5,775.6 1198.7,781.7 1199.9,784.2 1201.1,773.6 1202.3,775.5 1203.4,783.1 1204.6,786.7 1205.8,779.4 1207.0,788.2 1208.2,788.8 1209.4,779.6 1210.5,779.4 1211.7,785.6 1212.9,785.7 1214.1,789.1 1215.3,778.2 1216.5,789.6 1217.6,782.7 1218.8,780.1 1220.0,781.6 1221.2,779.6 1222.4,780.8 1223.6,789.3 1224.7,782.2 1225.9,791.1 1227.1,788.7 1228.3,783.5 1229.5,783.7 1230.6,775.2 1231.8,788.7 1233.0,783.1 1234.2,780.2 1235.4,788.8 1236.6,784.0 1237.7,792.0 1238.9,793.5 1240.1,785.0 1241.3,785.4 1242.5,795.1 1243.7,793.3 1244.8,793.5 1246.0,784.9 1247.2,778.8 1248.4,791.7 1249.6,788.9 1250.8,785.9 1251.9,793.9 1253.1,795.2 1254.3,788.9 1255.5,781.1 1256.7,794.9 1257.9,805.8 1259.0,795.3 1260.2,786.7 1261.4,784.3 1262.6,793.4 1263.8,797.2 1265.0,797.7 1266.1,795.6 1267.3,787.7 1268.5,789.1 1269.7,797.2 1270.9,800.4 1272.1,805.6 1273.2,800.4 1274.4,796.3 1275.6,799.6 1276.8,790.6 1278.0,795.1 1279.2,803.4 1280.3,792.8 1281.5,793.8 1282.7,796.4 1283.9,798.3 1285.1,793.3 1286.2,793.9 1287.4,802.1 1288.6,794.0 1289.8,796.7 1291.0,797.3 1292.2,797.4 1293.3,807.5 1294.5,797.8 1295.7,805.2 1296.9,798.3 1298.1,808.8 1299.3,816.4 1300.4,799.5 1301.6,805.8 1302.8,805.9 1304.0,798.6 1305.2,810.3 1306.4,801.7 1307.5,809.2 1308.7,800.8 1309.9,805.6 1311.1,804.5 1312.3,810.7 1313.5,804.1 1314.6,816.6 1315.8,804.7 1317.0,803.0 1318.2,815.2 1319.4,806.7 1320.6,815.0 1321.7,810.4 1322.9,816.1 1324.1,810.4 1325.3,806.8 1326.5,807.8 1327.7,810.3 1328.8,807.4 1330.0,815.5 1331.2,807.7 1332.4,812.9 1333.6,815.2 1334.8,820.2 1335.9,813.2 1337.1,820.3 1338.3,815.7 1339.5,818.3 1340.7,821.1 1341.9,817.9 1343.0,823.0 1344.2,822.8 1345.4,816.1 1346.6,822.1 1347.8,814.4 1348.9,815.6 1350.1,824.7 1351.3,816.9 1352.5,826.0 1353.7,830.4 1354.9,820.9 1356.0,817.6 1357.2,825.8 1358.4,825.6 1359.6,820.2 1360.8,819.2 1362.0,829.5 1363.1,827.2 1364.3,826.8 1365.5,828.5 1366.7,819.9 1367.9,821.2 1369.1,831.2 1370.2,824.5 1371.4,831.0 1372.6,832.8 1373.8,833.7 1375.0,819.3 1376.2,834.0 1377.3,838.4 1378.5,833.9 1379.7,838.8 1380.9,829.3 1382.1,835.7 1383.3,830.4 1384.4,828.0 1385.6,834.4 1386.8,828.6 1388.0,838.8 1389.2,829.3 1390.4,831.6 1391.5,832.9 1392.7,830.8 1393.9,834.2 1395.1,835.4 1396.3,831.4 1397.5,832.4 1398.6,837.9 1399.8,835.3 1401.0,843.1 1402.2,834.0 1403.4,844.8 1404.5,835.6 1405.7,835.5 1406.9,841.6 1408.1,832.6 1409.3,844.2 1410.5,838.7 1411.6,844.9 1412.8,844.1 1414.0,839.1 1415.2,845.9 1416.4,849.2 1417.6,849.5 1418.7,843.7 1419.9,843.8 1421.1,845.8 1422.3,849.1 1423.5,840.7 1424.7,844.7 1425.8,844.9 1427.0,852.4 1428.2,852.5 1429.4,855.8 1430.6,848.3 1431.8,849.9 1432.9,858.2 1434.1,850.5 1435.3,856.0 1436.5,850.2 1437.7,858.6 1438.9,850.8 1440.0,860.0 1441.2,853.9 1442.4,859.7 1443.6,860.8 1444.8,854.4 1446.0,855.4 1447.1,853.8 1448.3,858.2 1449.5,858.6 1450.7,862.2 1451.9,856.8 1453.1,858.5 1454.2,859.8 1455.4,865.4 1456.6,860.5 1457.8,867.4 1459.0,865.2 1460.2,868.7 1461.3,869.2 1462.5,862.9 1463.7,870.7 1464.9,865.7 1466.1,872.2 1467.2,869.4 1468.4,873.2 1469.6,870.7 1470.8,865.6 1472.0,870.5 1473.2,866.5 1474.3,875.9 1475.5,877.0 1476.7,868.4 1477.9,877.5 1479.1,873.6 1480.3,877.7 1481.4,878.2 1482.6,873.2 1483.8,881.1 1485.0,872.0 1486.2,886.8 1487.4,877.4 1488.5,884.6 1489.7,876.0 1490.9,885.2 1492.1,877.7 1493.3,886.3 1494.5,885.8 1495.6,887.8 1496.8,886.3 1498.0,879.2 1499.2,879.5 1500.4,888.0 1501.5,889.6 1502.7,890.9 1503.9,889.9 1505.1,893.1 1506.3,884.9 1507.5,886.0 1508.7,883.8 1509.9,894.3 1511.1,886.6 1512.3,894.2 1513.5,894.1 1514.7,895.6 1515.9,893.1 1517.0,888.1 1518.2,898.6 1519.4,900.0 1520.5,890.0 1521.7,901.4 1522.9,898.5 1524.1,901.2 1525.2,902.5 1526.4,902.3 1527.6,897.6 1528.8,902.3 1530.0,894.6 1531.2,898.6 1532.4,900.1 1533.5,896.2 1534.7,907.0 1535.9,907.5 1537.0,903.0 1538.2,901.5 1539.4,900.3 1540.6,912.0 1541.7,902.0 1542.7,902.1 1543.8,905.8 1544.9,914.7 1546.1,904.2 1547.3,917.8 1548.5,908.1 1549.7,910.6 1551.0,916.5 1552.3,909.9 1553.5,905.8 1554.8,919.3 1556.1,911.8 1557.4,912.6 1558.6,921.7 1559.8,921.4 1560.9,927.8 1562.1,923.9 1563.2,923.0 1564.4,915.5 1565.6,916.4 1566.8,918.5 1568.0,927.1 1569.1,921.0 1570.3,918.9 1571.5,931.1 1572.7,923.7 1573.9,921.0 1575.0,931.3 1576.2,919.1 1577.3,925.6 1578.4,924.4 1579.6,933.9 1580.9,925.4 1582.2,935.2 1583.5,943.7 1584.7,919.2 1586.0,931.1 1587.3,939.4 1588.5,937.2 1589.7,932.9 1590.9,939.4 1591.9,935.1 1592.9,935.7 1593.9,934.7 1595.0,940.8 1596.2,938.5 1597.4,938.5 1598.6,935.8 1599.9,947.5 1601.0,939.5 1602.1,949.6 1603.2,940.3 1604.3,939.2 1605.4,951.8 1606.6,955.9 1607.9,951.4 1609.1,946.3 1610.4,942.9 1611.6,953.8 1612.7,955.9 1613.8,949.9 1614.9,946.7 1616.1,949.8 1617.4,959.1 1618.8,948.3 1620.2,952.8 1621.6,951.3 1622.8,960.5 1623.9,961.8 1624.9,958.4 1625.7,962.5 1626.6,965.7 1627.5,957.4 1628.6,970.8 1629.8,967.0 1631.1,957.7 1632.5,967.8 1633.9,974.3 1635.2,961.6 1636.4,961.5 1637.5,966.2 1638.5,970.1 1639.5,965.4 1640.5,970.3 1641.5,965.4 1642.6,973.4 1643.7,971.0 1645.0,967.4 1646.4,974.6 1647.7,976.7 1649.0,972.9 1650.3,976.7 1651.5,978.3 1652.5,977.0 1653.6,986.5 1654.5,973.8 1655.5,978.0 1656.4,984.1 1657.6,986.6 1658.7,983.6 1659.9,983.8 1661.1,987.8 1662.3,982.6 1663.4,991.8 1664.6,986.8 1665.8,985.4 1667.0,994.3 1668.1,986.6 1669.8,992.8 1671.5,989.0 1673.1,985.5 1674.5,996.2 1675.8,988.8 1676.8,998.6 1677.8,991.9 1678.7,998.3 1679.6,1000.5 1680.7,1001.9 1681.8,1003.7 1683.1,1001.7 1684.3,1004.7 1685.6,996.7 1686.8,1004.9 1688.0,1006.5 1689.2,1010.3 1690.4,1004.3 1691.6,1001.9 1692.9,1009.4 1694.1,1007.2 1695.3,1011.3 1696.5,1005.4 1697.6,1006.6 1698.8,1014.3 1700.2,1017.2 1701.7,1016.8 1703.3,1012.8 1704.8,1018.9 1706.1,1022.4 1707.2,1023.2 1708.0,1024.2 1708.6,1020.5 1709.3,1027.1 1710.1,1020.3 1711.1,1029.5 1712.2,1020.2 1713.4,1020.6 1714.6,1019.3 1715.8,1029.9 1717.0,1033.7 1718.3,1025.6 1719.6,1032.1 1721.0,1026.7 1722.6,1031.4 1724.2,1027.2 1725.7,1039.2 1727.1,1040.2 1728.2,1038.6 1728.9,1033.3 1729.5,1042.5 1730.1,1044.3 1730.8,1039.8 1731.8,1033.9 1733.1,1047.3 1734.6,1046.3 1736.2,1041.0 1737.9,1041.8 1739.6,1048.7 1741.2,1050.1 1742.8,1052.5 1744.4,1053.9 1745.9,1056.7 1747.3,1056.3 1748.4,1051.2 1749.3,1053.4 1749.9,1055.1 1750.6,1055.3 1751.3,1064.0 1752.2,1056.1 1753.4,1057.4 1754.7,1063.9 1756.0,1060.2 1757.2,1061.9 1758.2,1066.3 1759.1,1070.4 1760.3,1060.8 1761.6,1069.4 1763.1,1074.3 1764.6,1069.0 1766.0,1068.2 1767.3,1074.3 1768.4,1077.9 1769.4,1070.4 1770.4,1077.7 1771.3,1073.6 1772.2,1081.4 1773.1,1085.0 1774.1,1084.8 1775.3,1085.3 1776.5,1085.4 1777.8,1088.7 1779.0,1088.7 1780.2,1086.9 1781.4,1086.1 1782.6,1086.6 1783.9,1094.0 1785.2,1087.4 1786.8,1092.3 1788.4,1092.0 1790.1,1095.2 1791.7,1095.7 1793.0,1095.3 1794.1,1095.7 1794.9,1105.0 1795.5,1098.0 1796.2,1100.9 1796.8,1100.5 1797.6,1102.4 1798.3,1107.9 1799.1,1105.6 1799.9,1106.0 1800.7,1114.4 1801.9,1111.3 1803.1,1115.8 1804.2,1116.0 1805.4,1114.3 1807.0,1121.4 1808.6,1114.6 1810.3,1119.4 1812.0,1117.3 1813.7,1126.1 1815.3,1125.7 1816.8,1128.3 1818.1,1131.2 1819.2,1132.7 1820.1,1133.7 1820.9,1133.8 1821.8,1136.3 1822.9,1137.2 1824.1,1137.8 1825.2,1134.6 1826.2,1138.9 1826.9,1138.2 1827.4,1143.2 1827.8,1145.1 1828.9,1140.9 1830.1,1143.3 1831.3,1140.2 1832.4,1143.4 1834.1,1151.2 1836.1,1147.2 1838.1,1149.0 1839.8,1153.6 1841.3,1156.7 1842.6,1153.8 1843.7,1158.2 1844.5,1156.0 1845.2,1156.6 1846.0,1160.7 1847.1,1161.4 1848.5,1166.7 1850.2,1162.1 1852.0,1164.0 1853.6,1165.5 1855.1,1178.1 1856.3,1172.7 1857.5,1177.1 1858.7,1172.5 1860.0,1171.3 1861.3,1180.3 1862.6,1181.5 1863.8,1178.4 1864.8,1185.0 1865.7,1186.2 1866.4,1187.4 1866.9,1186.2 1867.5,1189.9 1868.1,1195.9 1869.0,1194.4 1870.2,1196.6 1871.7,1192.4 1873.5,1199.1 1875.3,1194.7 1877.1,1195.8 1878.7,1202.9 1880.1,1199.8 1881.2,1200.5 1882.2,1203.1 1883.2,1210.7 1884.3,1205.8 1885.5,1209.2 1886.9,1215.4 1888.2,1210.2 1889.3,1218.2 1890.2,1214.3 1891.0,1220.3 1891.9,1216.8 1893.0,1218.4 1894.4,1221.8 1896.0,1222.9 1897.6,1225.8 1899.1,1228.6 1900.3,1227.3 1901.3,1233.4 1902.1,1237.1 1902.8,1237.8 1903.4,1239.0 1904.1,1240.2 1904.8,1238.5 1905.6,1241.4 1906.6,1245.9 1907.6,1244.9 1908.7,1247.1 1910.0,1248.8 1911.5,1254.0 1913.0,1254.9 1914.5,1253.2 1915.7,1259.6 1916.7,1258.9 1917.4,1259.0 1918.0,1263.6 1918.8,1267.3 1919.7,1267.6 1920.8,1267.8 1922.0,1267.8 1923.0,1272.0 1924.1,1277.1 1925.3,1273.7 1926.5,1280.7 1927.7,1278.5 1928.8,1283.8 1930.0,1286.2 1931.7,1288.1 1934.0,1291.4 1936.4,1290.6 1938.7,1290.8 1940.7,1295.0 1942.4,1296.5 1943.7,1298.6 1944.6,1297.7 1945.2,1298.7 1945.5,1300.7 1946.0,1302.8 1946.7,1311.2 1947.9,1309.7 1949.1,1312.8 1950.4,1311.9 1951.5,1317.4 1952.6,1315.5 1953.9,1321.3 1955.5,1322.5 1957.1,1321.6 1958.6,1323.8 1959.7,1326.1 1960.6,1327.9 1961.6,1333.6 1962.9,1331.8 1964.7,1335.3 1966.8,1336.3 1969.0,1340.9 1970.8,1343.6 1972.2,1345.1 1973.2,1346.5 1973.9,1346.8 1974.6,1350.2 1975.4,1351.2 1976.5,1355.5 1978.0,1358.1 1979.7,1360.1 1981.5,1361.1 1983.0,1364.7 1984.0,1364.5 1984.4,1367.2 1984.3,1372.9 1984.3,1371.5 1984.5,1373.3 1985.1,1378.5 1986.2,1380.9 1987.5,1381.1 1989.2,1385.3 1990.9,1389.2 1992.8,1391.2 1994.5,1390.7 1996.2,1395.5 1997.8,1397.3 1999.2,1398.3 2000.5,1402.8 2001.5,1402.5 2002.0,1405.2 2002.3,1408.0 2002.6,1413.0 2003.2,1412.9 2004.4,1414.9 2006.0,1420.5 2007.7,1420.0 2009.5,1422.9 2011.1,1428.6 2012.6,1426.0 2014.0,1430.0 2015.4,1435.5 2016.7,1436.9 2018.0,1444.5 2019.2,1441.7 2020.3,1446.8 2021.4,1446.6 2022.5,1452.9 2023.4,1454.7 2024.2,1454.5 2025.0,1460.7 2025.8,1463.1 2026.6,1461.4 2027.5,1466.8 2028.3,1472.5 2029.3,1473.8 2030.5,1475.3 2032.1,1480.9 2034.1,1482.9 2036.2,1485.2 2038.3,1489.3 2040.0,1489.3 2041.2,1492.0 2042.0,1497.3 2042.3,1501.7 2042.4,1501.9 2042.6,1504.7 2043.2,1508.1 2044.4,1510.7 2045.9,1514.5 2047.5,1520.6"/>
<polyline stroke="#ff0000" stroke-width="14.0" points="399.0,648.4 400.2,624.3 401.4,647.4 402.5,631.7 403.7,628.3 404.9,650.0 406.1,643.2 407.3,627.2 408.5,649.5 409.6,650.8 410.8,632.7 412.0,647.8 413.2,628.9 414.4,636.6 415.6,648.0 416.7,635.9 417.9,625.4 419.1,629.9 420.3,648.2 421.5,639.5 422.7,632.6 423.8,647.7 425.0,651.5 426.2,642.1 427.4,647.2 428.6,652.0 429.8,629.4 430.9,644.4 432.1,651.9 433.3,655.1 434.5,633.4 435.7,643.6 436.9,648.0 438.0,644.0 439.2,644.0 440.4,631.2 441.6,649.0 442.8,636.7 444.0,632.2 445.1,660.9 446.3,648.0 447.5,640.9 448.7,649.9 449.9,642.1 451.1,634.2 452.2,647.5 453.4,650.8 454.6,650.9 455.8,646.5 457.0,654.6 458.1,655.0 459.3,653.9 460.5,640.4 461.7,638.3 462.9,646.6 464.1,650.1 465.2,636.6 466.4,658.8 467.6,642.8 468.8,634.2 470.0,642.4 471.2,642.0 472.3,656.4 473.5,635.3 474.7,655.9 475.9,655.6 477.1,649.5 478.3,660.3 479.4,653.6 480.6,637.3 481.8,640.4 483.0,651.1 484.2,642.9 485.4,644.0 486.5,640.0 487.7,635.2 488.9,641.3 490.1,654.2 491.3,654.3 492.5,635.9 493.6,648.2 494.8,641.1 496.0,642.1 497.2,656.9 498.4,627.6 499.6,646.3 500.7,646.3 501.9,655.6 503.1,641.4 504.3,653.2 505.5,652.1 506.7,652.3 507.8,643.5 509.0,651.1 510.2,660.8 511.4,639.4 512.6,652.5 513.8,644.3 514.9,647.0 516.1,643.5 517.3,662.6 518.5,652.1 519.7,641.3 520.8,636.9 522.0,629.6 523.2,641.4 524.4,648.1 525.6,655.9 526.8,649.8 527.9,646.4 529.1,638.8 530.3,651.2 531.5,655.7 532.7,651.2 533.9,652.5 535.0,639.8 536.2,660.4 537.4,640.8 538.6,644.3 539.8,655.1 541.0,644.1 542.1,637.6 543.3,647.7 544.5,639.4 545.7,650.8 546.9,641.4 548.1,657.0 549.2,644.1 550.4,650.1 551.6,650.3 552.8,644.0 554.0,658.3 555.2,637.0 556.3,654.5 557.5,641.2 558.7,637.8 559.9,639.9 561.1,655.2 562.3,658.2 563.4,656.0 564.6,642.4 565.8,648.5 567.0,639.6 568.2,645.9 569.4,642.3 570.5,638.4 571.7,643.2 572.9,659.5 574.1,667.4 575.3,643.0 576.4,635.5 577.6,659.2 578.8,639.9 580.0,639.1 581.2,640.4 582.4,656.8 583.5,660.1 584.7,640.2 585.9,654.6 587.1,655.0 588.3,651.5 589.5,638.9 590.6,656.0 591.8,647.4 593.0,660.5 594.2,661.6 595.4,654.9 596.6,641.0 597.7,644.9 598.9,654.9 600.1,659.7 601.3,647.5 602.5,646.0 603.7,654.5 604.8,659.5 606.0,642.7 607.2,654.2 608.4,654.8 609.6,649.3 610.8,646.1 611.9,661.2 613.1,658.9 614.3,632.8 615.5,639.5 616.7,643.9 617.9,647.6 619.0,642.1 620.2,645.5 621.4,656.1 622.6,657.2 623.8,658.7 625.0,632.3 626.1,645.0 627.3,652.0 628.5,657.0 629.7,654.2 630.9,653.4 632.1,658.3 633.2,660.5 634.4,659.7 635.6,643.6 636.8,640.9 638.0,644.0 639.1,657.9 640.3,644.5 641.5,656.8 642.7,653.5 643.9,661.2 645.1,640.9 646.2,658.5 647.4,632.9 648.6,654.8 649.8,652.2 651.0,643.5 652.2,643.9 653.3,664.2 654.5,649.7 655.7,642.2 656.9,648.4 658.1,641.3 659.3,651.0 660.4,653.1 661.6,647.5 662.8,650.9 664.0,654.4 665.2,653.0 666.4,643.8 667.5,644.6 668.7,645.7 669.9,663.3 671.1,634.4 672.3,658.5 673.5,645.0 674.6,654.0 675.8,650.3 677.0,645.4 678.2,645.8 679.4,646.3 680.6,659.8 681.7,660.0 682.9,662.3 684.1,648.6 685.3,654.8 686.5,660.0 687.7,656.3 688.8,662.5 690.0,643.4 691.2,659.6 692.4,645.3 693.6,655.0 694.7,650.4 695.9,652.1 697.1,661.2 698.3,644.8 699.5,644.2 700.7,664.1 701.8,653.5 703.0,651.2 704.2,646.1 705.4,654.7 706.6,640.0 707.8,663.6 708.9,650.9 710.1,645.9 711.3,661.4 712.5,649.2 713.7,660.6 714.9,662.3 716.0,665.0 717.2,647.0 718.4,648.7 719.6,635.1 720.8,662.9 722.0,652.7 723.1,638.0 724.3,663.4 725.5,646.8 726.7,646.7 727.9,646.5 729.1,656.4 730.2,672.2 731.4,651.6 732.6,655.6 733.8,657.6 735.0,652.7 736.2,648.0 737.3,664.1 738.5,664.9 739.7,659.1 740.9,651.0 742.1,667.2 743.3,648.2 744.4,665.5 745.6,661.0 746.8,650.8 748.0,673.8 749.2,659.3 750.4,646.9 751.5,655.6 752.7,664.1 753.9,661.4 755.1,648.9 756.3,650.3 757.4,662.7 758.6,647.4 759.8,662.6 761.0,658.9 762.2,653.7 763.4,654.5 764.5,656.2 765.7,648.6 766.9,666.6 768.1,654.6 769.3,662.1 770.5,648.7 771.6,665.9 772.8,662.8 774.0,651.3 775.2,666.4 776.4,666.0 777.6,655.9 778.7,651.9 779.9,665.3 781.1,647.6 782.3,667.3 783.5,667.5 784.7,648.8 785.8,667.2 787.0,652.2 788.2,665.2 789.4,666.1 790.6,650.4 791.8,653.4 792.9,667.5 794.1,664.7 795.3,663.3 796.5,651.4 797.7,663.8 798.9,648.3 800.0,651.8 801.2,651.5 802.4,648.4 803.6,656.2 804.8,648.0 806.0,675.5 807.1,656.8 808.3,664.1 809.5,658.9 810.7,649.1 811.9,655.4 813.0,647.4 814.2,652.0 815.4,661.4 816.6,649.9 817.8,666.2 819.0,661.4 820.1,647.5 821.3,654.8 822.5,666.0 823.7,651.3 824.9,649.1 826.1,651.7 827.2,656.7 828.4,654.2 829.6,651.4 830.8,656.3 832.0,657.0 833.2,663.4 834.3,668.3 835.5,662.3 836.7,649.4 837.9,650.6 839.1,653.3 840.3,668.1 841.4,649.6 842.6,663.4 843.8,656.0 845.0,652.9 846.2,663.6 847.4,665.9 848.5,666.3 849.7,674.6 850.9,652.6 852.1,652.7 853.3,653.3 854.5,653.3 855.6,661.4 856.8,655.3 858.0,664.2 859.2,670.3 860.4,667.6 861.6,651.8 862.7,670.2 863.9,657.2 865.1,653.4 866.3,654.6 867.5,651.6 868.7,655.4 869.8,659.7 871.0,652.5 872.2,671.1 873.4,658.7 874.6,663.1 875.7,656.4 876.9,670.4 878.1,669.7 879.3,660.6 880.5,651.4 881.7,666.4 882.8,657.0 884.0,653.6 885.2,660.2 886.4,667.9 887.6,666.6 888.8,653.1 889.9,671.1 891.1,661.0 892.3,671.0 893.5,659.2 894.7,671.1 895.9,675.0 897.0,649.1 898.2,670.7 899.4,667.1 900.6,664.9 901.8,651.7 903.0,666.1 904.1,666.3 905.3,670.2 906.5,658.4 907.7,652.4 908.9,667.9 910.1,657.7 911.2,656.8 912.4,666.5 913.6,651.9 914.8,651.7 916.0,671.4 917.2,669.7 918.3,668.5 919.5,660.3 920.7,657.7 921.9,653.8 923.1,651.4 924.3,668.2 925.4,654.9 926.6,667.4 927.8,651.7 929.0,654.7 930.2,658.4 931.3,657.2 932.5,654.0 933.7,667.8 934.9,651.9 936.1,676.8 937.3,663.5 938.4,662.3 939.6,653.8 940.8,665.6 942.0,667.0 943.2,663.9 944.4,664.3 945.5,663.4 946.7,659.1 947.9,664.3 949.1,675.5 950.3,656.1 951.5,669.6 952.6,657.3 953.8,653.3 955.0,665.8 956.2,669.9 957.4,653.6 958.6,652.4 959.7,677.6 960.9,656.4 962.1,654.5 963.3,684.0 964.5,659.6 965.7,655.7 966.8,663.7 968.0,659.3 969.2,659.0 970.4,654.0 971.6,668.6 972.8,666.0 973.9,647.8 975.1,657.3 976.3,672.2 977.5,668.1 978.7,669.7 979.9,664.5 981.0,665.9 982.2,667.3 983.4,656.7 984.6,656.3 985.8,668.6 987.0,657.3 988.1,652.8 989.3,660.6 990.5,670.0 991.7,659.5 992.9,664.5 994.0,670.6 995.2,654.6 996.4,655.2 997.6,652.8 998.8,658.2 1000.0,654.5 1001.1,664.9 1002.3,658.0 1003.5,654.1 1004.7,668.2 1005.9,668.7 1007.1,671.1 1008.2,658.8 1009.4,664.7 1010.6,667.0 1011.8,671.1 1013.0,672.1 1014.2,659.0 1015.3,657.1 1016.5,658.2 1017.7,658.1 1018.9,670.2 1020.1,667.6 1021.3,656.3 1022.4,667.9 1023.6,653.1 1024.8,664.0 1026.0,670.2 1027.2,656.2 1028.4,669.6 1029.5,656.3 1030.7,672.5 1031.9,666.6 1033.1,672.5 1034.3,657.9 1035.5,658.8 1036.6,672.6 1037.8,657.4 1039.0,661.1 1040.2,672.0 1041.4,673.2 1042.6,658.4 1043.7,657.4 1044.9,669.6 1046.1,659.8 1047.3,661.1 1048.5,657.5 1049.6,652.5 1050.8,673.0 1052.0,668.8 1053.2,657.4 1054.4,658.1 1055.6,677.8 1056.7,670.2 1057.9,659.7 1059.1,670.0 1060.3,673.1 1061.5,673.6 1062.7,670.7 1063.8,659.5 1065.0,674.1 1066.2,671.3 1067.4,673.8 1068.6,665.8 1069.8,674.5 1070.9,673.6 1072.1,662.8 1073.3,660.0 1074.5,670.6 1075.7,660.9 1076.9,663.2 1078.0,661.3 1079.2,664.2 1080.4,663.5 1081.6,672.2 1082.8,670.5 1084.0,660.6 1085.1,671.5 1086.3,673.2 1087.5,665.8 1088.7,658.9 1089.9,673.9 1091.1,672.8 1092.2,682.2 1093.4,662.5 1094.6,673.5 1095.8,671.4 1097.0,660.6 1098.2,663.8 1099.3,659.4 1100.5,675.6 1101.7,674.1 1102.9,662.5 1104.1,665.6 1105.3,673.7 1106.4,669.6 1107.6,660.7 1108.8,674.6 1110.0,673.7 1111.2,659.9 1112.3,676.1 1113.5,668.0 1114.7,671.8 1115.9,673.7 1117.1,677.0 1118.3,669.4 1119.4,664.2 1120.6,667.1 1121.8,677.5 1123.0,673.8 1124.2,672.1 1125.4,672.3 1126.5,658.3 1127.7,679.0 1128.9,679.4 1130.1,667.1 1131.3,662.3 1132.5,682.5 1133.6,666.0 1134.8,669.0 1136.0,676.2 1137.2,676.1 1138.4,671.0 1139.6,680.2 1140.7,664.6 1141.9,669.6 1143.1,678.9 1144.3,676.9 1145.5,674.2 1146.7,677.3 1147.8,663.8 1149.0,677.7 1150.2,673.6 1151.4,680.0 1152.6,666.4 1153.8,670.1 1154.9,681.8 1156.1,668.7 1157.3,677.8 1158.5,681.4 1159.7,675.0 1160.9,674.3 1162.0,674.6 1163.2,668.3 1164.4,674.6 1165.6,679.0 1166.8,673.9 1167.9,669.9 1169.1,671.3 1170.3,666.7 1171.5,665.7 1172.7,682.9 1173.9,671.5 1175.0,680.2 1176.2,679.4 1177.4,670.2 1178.6,670.9 1179.8,679.5 1181.0,675.5 1182.1,680.0 1183.3,678.6 1184.5,675.1 1185.7,680.1 1186.9,674.9 1188.1,668.6 1189.2,678.3 1190.4,685.5 1191.6,682.8 1192.8,672.3 1194.0,678.1 1195.2,670.2 1196.3,682.3 1197.5,674.8 1198.7,691.6 1199.9,687.2 1201.1,681.8 1202.3,685.1 1203.4,670.1 1204.6,674.7 1205.8,681.8 1207.0,673.0 1208.2,681.4 1209.4,675.8 1210.5,678.7 1211.7,672.2 1212.9,685.3 1214.1,675.1 1215.3,676.4 1216.5,674.0 1217.6,675.4 1218.8,674.1 1220.0,690.2 1221.2,687.9 1222.4,687.2 1223.6,673.9 1224.7,676.4 1225.9,690.0 1227.1,689.8 1228.3,675.8 1229.5,685.3 1230.6,686.9 1231.8,680.2 1233.0,678.7 1234.2,677.6 1235.4,688.1 1236.6,679.0 1237.7,688.5 1238.9,674.9 1240.1,685.1 1241.3,691.2 1242.5,676.6 1243.7,675.1 1244.8,689.3 1246.0,677.8 1247.2,686.5 1248.4,675.6 1249.6,684.2 1250.8,682.1 1251.9,676.1 1253.1,680.2 1254.3,683.5 1255.5,686.1 1256.7,681.1 1257.9,689.6 1259.0,691.3 1260.2,678.4 1261.4,694.0 1262.6,682.7 1263.8,689.6 1265.0,694.7 1266.1,691.6 1267.3,684.9 1268.5,693.1 1269.7,683.5 1270.9,679.5 1272.1,692.6 1273.2,685.5 1274.4,695.8 1275.6,680.6 1276.8,694.4 1278.0,687.9 1279.2,681.5 1280.3,687.5 1281.5,696.9 1282.7,698.3 1283.9,694.8 1285.1,696.3 1286.2,699.2 1287.4,700.2 1288.6,693.1 1289.8,684.2 1291.0,696.9 1292.2,685.0 1293.3,685.5 1294.5,694.1 1295.7,697.2 1296.9,686.7 1298.1,698.5 1299.3,700.3 1300.4,703.2 1301.6,693.8 1302.8,704.3 1304.0,690.0 1305.2,698.7 1306.4,691.0 1307.5,693.4 1308.7,691.8 1309.9,706.3 1311.1,709.1 1312.3,700.4 1313.5,690.4 1314.6,692.6 1315.8,692.2 1317.0,694.4 1318.2,697.5 1319.4,696.7 1320.6,698.2 1321.7,706.5 1322.9,698.3 1324.1,701.8 1325.3,700.2 1326.5,696.1 1327.7,704.5 1328.8,695.5 1330.0,694.9 1331.2,705.1 1332.4,707.6 1333.6,695.9 1334.8,693.1 1335.9,696.7 1337.1,700.4 1338.3,708.6 1339.5,709.1 1340.7,703.0 1341.9,712.4 1343.0,713.1 1344.2,700.5 1345.4,714.9 1346.6,701.8 1347.8,715.4 1348.9,710.9 1350.1,716.5 1351.3,704.8 1352.5,716.0 1353.7,705.7 1354.9,714.6 1356.0,715.8 1357.2,717.4 1358.4,724.6 1359.6,709.6 1360.8,703.4 1362.0,717.5 1363.1,725.5 1364.3,706.0 1365.5,718.3 1366.7,711.0 1367.9,718.5 1369.1,713.4 1370.2,721.5 1371.4,720.9 1372.6,723.6 1373.8,724.0 1375.0,708.5 1376.2,720.7 1377.3,726.6 1378.5,710.1 1379.7,724.5 1380.9,714.5 1382.1,721.8 1383.3,712.6 1384.4,724.5 1385.6,728.0 1386.8,727.0 1388.0,726.8 1389.2,729.9 1390.4,725.1 1391.5,717.7 1392.7,725.1 1393.9,730.7 1395.1,720.5 1396.3,722.8 1397.5,732.0 1398.6,718.3 1399.8,718.8 1401.0,723.4 1402.2,734.2 1403.4,720.9 1404.5,730.2 1405.7,733.0 1406.9,721.5 1408.1,736.4 1409.3,736.0 1410.5,722.6 1411.6,729.9 1412.8,729.3 1414.0,737.2 1415.2,724.5 1416.4,721.8 1417.6,725.7 1418.7,734.6 1419.9,746.8 1421.1,740.7 1422.3,731.3 1423.5,727.5 1424.7,731.8 1425.8,738.0 1427.0,731.4 1428.2,731.0 1429.4,743.5 1430.6,740.6 1431.8,731.2 1432.9,743.7 1434.1,732.7 1435.3,746.1 1436.5,747.1 1437.7,736.8 1438.9,733.9 1440.0,743.8 1441.2,744.8 1442.4,739.6 1443.6,741.3 1444.8,736.8 1446.0,752.5 1447.1,738.7 1448.3,744.6 1449.5,741.8 1450.7,750.1 1451.9,742.6 1453.1,741.1 1454.2,749.3 1455.4,744.7 1456.6,753.5 1457.8,746.4 1459.0,757.8 1460.2,753.9 1461.3,752.2 1462.5,752.1 1463.7,755.5 1464.9,755.6 1466.1,755.7 1467.2,750.0 1468.4,761.0 1469.6,753.9 1470.8,752.5 1472.0,760.5 1473.2,761.5 1474.3,756.1 1475.5,763.8 1476.7,755.2 1477.9,754.1 1479.1,756.7 1480.3,766.9 1481.4,756.9 1482.6,766.7 1483.8,755.2 1485.0,766.9 1486.2,762.1 1487.4,764.0 1488.5,772.1 1489.7,765.1 1490.9,761.6 1492.1,767.7 1493.3,763.1 1494.5,764.7 1495.6,766.3 1496.8,771.8 1498.0,773.4 1499.2,770.7 1500.4,767.0 1501.6,768.6 1502.7,776.9 1503.9,768.8 1505.1,780.7 1506.3,779.0 1507.5,779.0 1508.7,784.1 1509.9,773.4 1511.1,781.9 1512.3,778.3 1513.5,785.3 1514.7,773.8 1515.8,783.8 1517.0,781.0 1518.2,789.1 1519.4,785.7 1520.5,780.5 1521.7,780.0 1522.9,792.2 1524.1,792.5 1525.3,790.5 1526.5,792.4 1527.6,794.8 1528.8,793.1 1529.9,787.0 1531.1,781.7 1532.2,793.6 1533.4,787.8 1534.6,794.2 1535.8,799.0 1537.0,799.7 1538.2,792.4 1539.4,800.7 1540.5,792.4 1541.7,794.3 1542.8,793.5 1544.0,795.7 1545.1,804.1 1546.2,792.3 1547.4,792.9 1548.7,798.4 1550.0,808.4 1551.4,799.7 1552.8,801.2 1554.1,803.5 1555.2,808.8 1556.4,803.4 1557.5,809.4 1558.4,811.0 1559.4,802.7 1560.4,813.1 1561.5,806.7 1562.7,810.6 1563.9,805.9 1565.2,816.5 1566.4,808.0 1567.7,818.2 1568.9,820.7 1570.2,817.9 1571.4,818.2 1572.7,811.6 1574.0,820.0 1575.3,814.8 1576.7,814.6 1577.9,824.4 1579.1,817.4 1580.1,825.6 1581.0,819.0 1582.0,826.1 1582.9,827.5 1583.9,822.7 1585.0,824.9 1586.2,830.7 1587.5,833.4 1588.8,823.5 1590.2,832.4 1591.5,834.2 1592.8,829.0 1594.0,828.2 1595.1,829.2 1596.3,833.7 1597.4,838.9 1598.5,838.4 1599.7,839.4 1600.9,835.0 1602.1,830.1 1603.4,840.9 1604.6,843.8 1605.9,847.1 1607.2,845.9 1608.4,841.1 1609.7,840.8 1610.9,839.5 1612.1,841.9 1613.4,848.3 1614.7,849.6 1616.1,844.4 1617.3,846.3 1618.5,845.3 1619.7,849.0 1620.9,849.4 1622.0,856.0 1623.1,856.0 1624.1,857.7 1625.2,851.0 1626.3,853.3 1627.5,860.0 1628.7,854.6 1629.9,856.4 1631.1,855.5 1632.3,856.0 1633.4,862.6 1634.6,860.5 1635.7,861.2 1636.9,862.6 1638.1,867.7 1639.2,862.3 1640.3,871.8 1641.3,864.2 1642.3,875.0 1643.3,871.6 1644.4,871.0 1645.6,868.4 1646.9,871.1 1648.4,870.3 1649.9,875.5 1651.2,878.2 1652.3,873.8 1653.2,881.0 1654.1,881.6 1654.9,883.7 1655.9,881.3 1657.1,882.7 1658.4,879.4 1659.7,887.4 1661.0,887.8 1662.3,887.8 1663.6,889.8 1664.8,886.0 1666.0,892.2 1667.2,885.0 1668.5,889.3 1669.7,895.2 1671.0,894.7 1672.3,897.1 1673.6,893.5 1674.8,900.1 1675.9,897.2 1677.0,902.4 1678.0,904.3 1679.0,898.6 1680.1,904.6 1681.3,900.8 1682.7,903.6 1684.2,910.0 1685.7,909.2 1687.2,910.8 1688.5,909.4 1689.7,909.6 1690.7,909.5 1691.6,914.8 1692.5,917.9 1693.4,915.3 1694.3,916.5 1695.4,920.2 1696.6,916.2 1697.8,921.8 1699.1,924.5 1700.3,920.0 1701.5,927.0 1702.5,920.8 1703.5,931.5 1704.5,922.3 1705.4,928.7 1706.4,931.7 1707.5,926.7 1708.7,929.8 1710.2,936.2 1711.7,931.7 1713.4,937.2 1715.0,939.4 1716.4,940.2 1717.7,941.7 1718.7,939.6 1719.6,944.0 1720.4,945.2 1721.4,944.8 1722.4,946.3 1723.5,943.4 1724.7,945.7 1726.0,951.6 1727.5,951.2 1729.0,953.8 1730.4,946.2 1731.8,954.9 1733.1,953.6 1734.4,951.3 1735.5,955.4 1736.5,956.5 1737.3,960.1 1737.8,961.1 1738.3,964.1 1738.8,965.1 1739.7,963.7 1740.9,964.3 1742.3,968.6 1743.8,966.6 1745.4,968.4 1746.9,967.4 1748.3,974.3 1749.6,972.9 1751.0,973.9 1752.3,977.9 1753.8,979.3 1755.2,979.9 1756.6,982.2 1758.0,981.1 1759.3,985.6 1760.5,985.5 1761.6,984.1 1762.5,985.4 1763.3,989.9 1764.0,987.4 1764.6,991.6 1765.3,993.9 1765.9,993.3 1766.7,997.7 1767.8,1000.1 1769.0,998.7 1770.2,999.4 1771.5,1002.1 1773.2,1003.8 1774.9,1005.8 1776.5,1003.9 1778.0,1005.5 1779.3,1008.6 1780.4,1011.0 1781.4,1011.9 1782.3,1014.7 1783.2,1014.1 1784.1,1014.6 1785.3,1017.9 1786.5,1020.6 1787.9,1020.8 1789.4,1021.7 1791.0,1026.4 1792.7,1028.4 1794.2,1023.3 1795.6,1027.6 1796.6,1027.0 1797.4,1031.5 1798.2,1032.1 1799.2,1034.7 1800.4,1036.0 1801.9,1035.8 1803.3,1039.3 1804.6,1038.1 1805.6,1042.4 1806.3,1042.7 1806.8,1045.8 1807.3,1045.8 1808.0,1045.8 1809.0,1050.3 1810.1,1051.4 1811.3,1053.2 1812.6,1053.7 1814.0,1056.5 1815.4,1054.6 1816.9,1057.7 1818.3,1062.4 1819.5,1062.4 1820.4,1061.4 1821.3,1063.8 1822.3,1065.5 1823.6,1066.8 1825.1,1068.8 1826.8,1071.6 1828.5,1071.4 1829.8,1073.3 1830.8,1074.2 1831.5,1076.0 1832.2,1077.5 1833.2,1080.1 1834.6,1080.9 1836.1,1082.9 1837.7,1088.0 1838.9,1088.5 1839.9,1090.7 1840.9,1092.9 1841.9,1091.4 1843.3,1097.7 1845.1,1096.2 1847.0,1100.1 1848.9,1101.0 1850.6,1103.3 1852.0,1104.1 1853.2,1104.4 1854.4,1107.6 1855.5,1107.8 1856.6,1112.1 1857.5,1113.6 1858.4,1113.4 1859.3,1117.1 1860.3,1116.6 1861.3,1121.5 1862.3,1120.2 1863.4,1123.8 1864.5,1124.8 1865.5,1125.5 1866.6,1129.4 1867.8,1129.0 1869.0,1130.9 1870.6,1133.6 1872.3,1138.5 1873.9,1136.6 1875.4,1137.7 1876.4,1141.1 1877.1,1145.4 1877.8,1147.0 1878.6,1150.0 1879.8,1149.8 1881.3,1151.3 1882.8,1155.8 1884.2,1155.3 1885.3,1156.4 1886.2,1158.2 1887.1,1160.2 1888.0,1164.1 1889.1,1164.9 1890.3,1165.7 1891.5,1169.0 1892.7,1169.6 1893.8,1174.8 1894.8,1176.6 1895.9,1178.9 1896.9,1182.6 1897.9,1182.7 1898.9,1181.8 1899.8,1184.0 1900.8,1189.2 1901.8,1189.3 1902.9,1193.7 1904.2,1192.0 1905.6,1197.7 1907.1,1196.1 1908.6,1201.5 1910.1,1201.1 1911.6,1205.3 1913.0,1204.4 1914.3,1205.2 1915.6,1211.7 1916.8,1211.5 1918.0,1213.1 1919.2,1216.5 1920.5,1220.4 1921.8,1221.1 1923.3,1221.5 1924.8,1227.7 1926.3,1225.8 1927.7,1230.7 1929.0,1231.8 1930.0,1235.0 1930.9,1238.2 1931.9,1238.6 1933.0,1236.2 1934.4,1244.3 1936.0,1244.2 1937.7,1247.4 1939.6,1248.3 1941.3,1250.6 1942.6,1254.0 1943.8,1255.6 1944.8,1257.8 1945.2,1263.3 1945.7,1264.4 1946.3,1264.3 1947.2,1266.2 1948.3,1268.6 1949.3,1271.5 1950.1,1276.5 1950.6,1278.9 1950.9,1280.4 1951.4,1281.3 1952.1,1286.2 1953.3,1288.0 1954.9,1289.0 1956.8,1292.3 1958.7,1295.9 1960.6,1295.8 1962.3,1300.4 1963.8,1303.0 1965.1,1306.2 1966.5,1305.5 1968.0,1309.9 1969.8,1310.0 1971.7,1311.6 1973.5,1316.5 1974.8,1320.0 1976.0,1319.5 1977.2,1324.4 1978.3,1327.4 1979.5,1328.2 1980.7,1332.0 1981.9,1333.1 1983.1,1335.2 1983.3,1338.6 1983.5,1336.0 1984.0,1344.5 1984.8,1346.4 1985.9,1348.9 1987.3,1352.0 1988.8,1352.3 1990.3,1356.2 1991.7,1359.5 1993.0,1358.2 1994.1,1364.3 1994.9,1364.3 1995.7,1368.3 1996.6,1369.2 1997.6,1372.4 1998.6,1374.6 1999.6,1377.0 2000.6,1379.9 2001.5,1382.4 2002.6,1387.9 2003.7,1388.8 2004.9,1391.0 2006.2,1393.1 2007.6,1398.4 2009.0,1399.0 2010.2,1403.3 2011.3,1403.8 2012.2,1406.0 2012.9,1411.8 2013.6,1414.3 2014.4,1417.0 2015.4,1420.1 2016.7,1420.8 2017.9,1422.6 2019.1,1428.5 2020.2,1428.9 2021.1,1433.7 2022.2,1432.9 2023.3,1435.4 2024.5,1438.5 2026.0,1444.8 2027.6,1442.4 2029.4,1449.4 2031.1,1452.7 2032.6,1455.9 2033.9,1456.1 2035.1,1462.7 2036.3,1463.3 2037.5,1466.4 2038.6,1468.7 2039.7,1468.8 2040.7,1474.3 2041.7,1476.2 2042.8,1479.9 2044.2,1482.4 2045.7,1486.1 2046.9,1485.7 2047.9,1488.9 2048.7,1490.6 2049.7,1496.3 2051.2,1497.6 2053.3,1502.8 2055.8,1502.1 2058.5,1507.4 2060.1,1511.2 2061.3,1512.0 2062.5,1515.8 2063.7,1519.9"/>
<polyline stroke="#0000ff" stroke-width="14.0" points="399.0,372.8 400.2,361.8 401.4,371.2 402.5,373.9 403.7,370.5 404.9,368.6 406.1,373.1 407.3,372.5 408.5,365.9 409.6,370.1 410.8,373.7 412.0,359.0 413.2,372.4 414.4,374.3 415.6,365.4 416.7,369.4 417.9,362.6 419.1,373.6 420.3,379.1 421.5,364.4 422.7,368.3 423.8,378.6 425.0,372.4 426.2,367.8 427.4,375.5 428.6,361.3 429.8,363.4 430.9,379.6 432.1,363.8 433.3,362.0 434.5,381.0 435.7,378.5 436.9,384.9 438.0,379.0 439.2,381.8 440.4,368.4 441.6,379.5 442.8,365.6 444.0,381.0 445.1,379.7 446.3,366.5 447.5,366.6 448.7,366.6 449.9,381.9 451.1,379.3 452.2,369.0 453.4,379.5 454.6,380.4 455.8,380.6 457.0,385.8 458.1,383.7 459.3,373.3 460.5,366.5 461.7,369.6 462.9,367.2 464.1,393.0 465.2,384.0 466.4,370.0 467.6,386.7 468.8,372.3 470.0,375.8 471.2,380.5 472.3,388.1 473.5,386.7 474.7,369.7 475.9,386.9 477.1,370.9 478.3,385.6 479.4,383.3 480.6,370.3 481.8,368.9 483.0,388.1 484.2,368.3 485.4,370.6 486.5,389.1 487.7,384.5 488.9,381.6 490.1,377.2 491.3,382.1 492.5,377.7 493.6,370.0 494.8,372.8 496.0,374.5 497.2,379.6 498.4,376.5 499.6,386.2 500.7,387.9 501.9,387.4 503.1,379.0 504.3,377.3 505.5,370.9 506.7,376.8 507.8,388.8 509.0,377.2 510.2,376.1 511.4,374.1 512.6,386.7 513.8,382.8 514.9,373.0 516.1,376.5 517.3,373.9 518.5,375.4 519.7,377.5 520.8,374.7 522.0,395.0 523.2,389.0 524.4,376.1 525.6,386.6 526.8,381.9 527.9,378.1 529.1,382.8 530.3,388.8 531.5,377.2 532.7,369.1 533.9,386.5 535.0,377.5 536.2,392.7 537.4,397.6 538.6,377.1 539.8,402.3 541.0,396.5 542.1,386.0 543.3,378.8 544.5,395.6 545.7,383.9 546.9,383.4 548.1,396.5 549.2,378.6 550.4,405.7 551.6,399.5 552.8,372.3 554.0,380.4 555.2,381.0 556.3,391.9 557.5,386.7 558.7,392.0 559.9,401.1 561.1,384.6 562.3,374.9 563.4,395.2 564.6,396.6 565.8,381.8 567.0,382.3 568.2,384.3 569.4,411.0 570.5,389.0 571.7,387.7 572.9,403.0 574.1,411.8 575.3,389.2 576.4,398.5 577.6,404.0 578.8,387.0 580.0,391.6 581.2,387.8 582.4,396.6 583.5,386.7 584.7,391.0 585.9,407.7 587.1,406.6 588.3,385.5 589.5,391.9 590.6,405.3 591.8,406.0 593.0,391.7 594.2,402.8 595.4,405.1 596.6,394.3 597.7,388.5 598.9,406.1 600.1,405.3 601.3,401.3 602.5,406.6 603.7,410.5 604.8,391.4 606.0,387.8 607.2,404.0 608.4,391.3 609.6,409.3 610.8,407.5 611.9,398.7 613.1,408.4 614.3,411.5 615.5,407.6 616.7,394.2 617.9,399.3 619.0,384.9 620.2,406.3 621.4,396.4 622.6,392.8 623.8,394.9 625.0,396.8 626.1,384.0 627.3,391.6 628.5,394.5 629.7,396.7 630.9,412.8 632.1,394.2 633.2,416.1 634.4,412.7 635.6,401.5 636.8,409.7 638.0,411.3 639.1,413.8 640.3,398.6 641.5,416.1 642.7,413.2 643.9,396.6 645.1,395.4 646.2,412.3 647.4,416.3 648.6,413.5 649.8,416.6 651.0,396.5 652.2,419.3 653.3,404.2 654.5,405.6 655.7,417.5 656.9,412.5 658.1,407.1 659.3,399.6 660.4,420.7 661.6,413.9 662.8,399.0 664.0,412.4 665.2,416.7 666.4,409.4 667.5,415.4 668.7,402.8 669.9,423.6 671.1,410.9 672.3,400.7 673.5,396.4 674.6,421.4 675.8,419.4 677.0,415.0 678.2,405.2 679.4,419.5 680.6,421.4 681.7,402.7 682.9,402.1 684.1,420.5 685.3,417.9 686.5,420.5 687.7,404.5 688.8,423.6 690.0,411.0 691.2,421.3 692.4,405.6 693.6,409.1 694.7,409.0 695.9,410.3 697.1,423.7 698.3,416.8 699.5,422.6 700.7,419.0 701.8,422.3 703.0,413.7 704.2,403.3 705.4,416.0 706.6,405.2 707.8,403.5 708.9,424.6 710.1,418.1 711.3,418.4 712.5,418.8 713.7,413.6 714.9,408.8 716.0,414.4 717.2,417.5 718.4,423.3 719.6,413.5 720.8,409.9 722.0,422.2 723.1,423.8 724.3,409.0 725.5,428.5 726.7,426.3 727.9,411.7 729.1,428.2 730.2,425.4 731.4,411.4 732.6,410.8 733.8,431.0 735.0,429.2 736.2,408.9 737.3,410.5 738.5,431.2 739.7,425.8 740.9,424.6 742.1,409.4 743.3,427.5 744.4,422.7 745.6,426.8 746.8,428.7 748.0,426.4 749.2,436.0 750.4,432.3 751.5,428.6 752.7,419.2 753.9,431.1 755.1,428.8 756.3,425.8 757.4,417.0 758.6,417.1 759.8,433.3 761.0,427.8 762.2,403.8 763.4,421.2 764.5,429.6 765.7,434.3 766.9,413.6 768.1,424.2 769.3,428.2 770.5,414.9 771.6,417.7 772.8,413.8 774.0,412.8 775.2,424.7 776.4,419.2 777.6,431.7 778.7,429.4 779.9,432.1 781.1,419.6 782.3,436.1 783.5,428.6 784.7,418.1 785.8,434.3 787.0,430.4 788.2,435.6 789.4,418.0 790.6,435.5 791.8,420.4 792.9,408.1 794.1,412.9 795.3,423.2 796.5,408.7 797.7,417.7 798.9,415.4 800.0,416.6 801.2,408.2 802.4,414.1 803.6,416.1 804.8,415.9 806.0,422.2 807.1,429.7 808.3,430.8 809.5,421.2 810.7,420.9 811.9,419.4 813.0,436.3 814.2,436.3 815.4,425.0 816.6,430.5 817.8,421.0 819.0,431.8 820.1,438.4 821.3,439.2 822.5,432.2 823.7,421.6 824.9,436.8 826.1,420.5 827.2,420.9 828.4,424.0 829.6,431.4 830.8,430.7 832.0,430.4 833.2,432.7 834.3,417.5 835.5,440.2 836.7,441.9 837.9,417.8 839.1,421.9 840.3,428.4 841.4,440.0 842.6,421.2 843.8,432.9 845.0,430.1 846.2,439.4 847.4,446.4 848.5,426.5 849.7,427.6 850.9,439.7 852.1,428.8 853.3,443.5 854.5,437.9 855.6,426.8 856.8,432.8 858.0,422.8 859.2,443.1 860.4,443.5 861.6,428.5 862.7,428.7 863.9,429.9 865.1,432.2 866.3,443.5 867.5,440.4 868.7,446.3 869.8,438.3 871.0,445.0 872.2,445.0 873.4,429.2 874.6,428.1 875.7,430.6 876.9,435.5 878.1,427.2 879.3,429.5 880.5,444.3 881.7,435.8 882.8,441.1 884.0,443.1 885.2,439.8 886.4,431.4 887.6,452.6 888.8,452.9 889.9,434.5 891.1,439.8 892.3,445.7 893.5,450.0 894.7,447.0 895.9,452.2 897.0,450.8 898.2,435.8 899.4,438.1 900.6,444.9 901.8,440.0 903.0,441.8 904.1,440.7 905.3,457.9 906.5,440.1 907.7,450.4 908.9,443.5 910.1,439.3 911.2,452.7 912.4,437.7 913.6,456.8 914.8,443.8 916.0,455.8 917.2,439.2 918.3,444.1 919.5,460.0 920.7,441.8 921.9,458.9 923.1,448.3 924.3,459.4 925.4,443.1 926.6,463.0 927.8,448.1 929.0,443.4 930.2,463.9 931.3,458.5 932.5,450.2 933.7,465.7 934.9,443.7 936.1,452.8 937.3,460.1 938.4,459.3 939.6,466.3 940.8,436.0 942.0,461.2 943.2,444.5 944.4,446.8 945.5,464.8 946.7,446.5 947.9,445.1 949.1,442.1 950.3,454.0 951.5,463.9 952.6,446.0 953.8,442.2 955.0,447.7 956.2,445.5 957.4,442.3 958.6,442.1 959.7,452.7 960.9,449.8 962.1,445.2 963.3,460.7 964.5,438.5 965.7,457.4 966.8,442.4 968.0,464.4 969.2,461.3 970.4,448.4 971.6,460.3 972.8,445.7 973.9,443.8 975.1,464.4 976.3,463.8 977.5,447.4 978.7,461.5 979.9,442.5 981.0,447.5 982.2,461.7 983.4,445.1 984.6,442.0 985.8,459.4 987.0,464.6 988.1,460.1 989.3,467.2 990.5,445.2 991.7,448.1 992.9,461.5 994.0,450.3 995.2,464.6 996.4,449.3 997.6,472.7 998.8,449.4 1000.0,456.1 1001.1,454.3 1002.3,467.3 1003.5,464.2 1004.7,453.0 1005.9,465.6 1007.1,447.6 1008.2,441.2 1009.4,470.6 1010.6,467.7 1011.8,467.6 1013.0,450.7 1014.2,454.2 1015.3,473.4 1016.5,452.0 1017.7,455.3 1018.9,469.9 1020.1,460.1 1021.3,475.3 1022.4,471.6 1023.6,473.2 1024.8,460.7 1026.0,476.4 1027.2,475.0 1028.4,474.6 1029.5,478.0 1030.7,477.1 1031.9,463.0 1033.1,477.0 1034.3,470.7 1035.5,457.6 1036.6,459.9 1037.8,476.9 1039.0,484.9 1040.2,457.8 1041.4,466.1 1042.6,480.7 1043.7,477.6 1044.9,466.0 1046.1,481.7 1047.3,497.4 1048.5,482.3 1049.6,473.4 1050.8,461.4 1052.0,468.0 1053.2,480.2 1054.4,468.6 1055.6,480.6 1056.7,465.7 1057.9,483.9 1059.1,477.3 1060.3,468.0 1061.5,480.4 1062.7,486.7 1063.8,479.3 1065.0,490.2 1066.2,464.6 1067.4,472.8 1068.6,464.8 1069.8,488.0 1070.9,471.0 1072.1,484.5 1073.3,469.0 1074.5,476.9 1075.7,481.6 1076.9,489.5 1078.0,455.8 1079.2,476.6 1080.4,468.0 1081.6,470.0 1082.8,474.4 1084.0,465.5 1085.1,491.9 1086.3,483.3 1087.5,473.2 1088.7,492.5 1089.9,488.4 1091.1,484.0 1092.2,491.4 1093.4,490.8 1094.6,479.7 1095.8,486.9 1097.0,476.0 1098.2,486.9 1099.3,478.9 1100.5,495.3 1101.7,482.5 1102.9,477.1 1104.1,491.4 1105.3,494.7 1106.4,478.8 1107.6,475.0 1108.8,486.6 1110.0,476.5 1111.2,493.6 1112.3,495.7 1113.5,480.4 1114.7,504.7 1115.9,493.7 1117.1,480.6 1118.3,481.8 1119.4,478.5 1120.6,480.8 1121.8,498.3 1123.0,485.2 1124.2,494.8 1125.4,478.8 1126.5,495.8 1127.7,478.8 1128.9,483.1 1130.1,495.4 1131.3,498.9 1132.5,483.6 1133.6,480.5 1134.8,499.9 1136.0,506.6 1137.2,479.3 1138.4,482.6 1139.6,495.4 1140.7,486.6 1141.9,500.0 1143.1,498.9 1144.3,494.7 1145.5,487.2 1146.7,498.2 1147.8,501.7 1149.0,490.8 1150.2,502.2 1151.4,499.6 1152.6,501.6 1153.8,487.1 1154.9,496.0 1156.1,511.6 1157.3,488.7 1158.5,504.2 1159.7,500.0 1160.9,511.6 1162.0,497.0 1163.2,501.3 1164.4,496.8 1165.6,505.9 1166.8,502.2 1167.9,496.1 1169.1,504.2 1170.3,504.8 1171.5,506.3 1172.7,502.4 1173.9,502.9 1175.0,506.7 1176.2,507.5 1177.4,515.8 1178.6,507.6 1179.8,507.6 1181.0,507.4 1182.1,508.7 1183.3,500.6 1184.5,505.8 1185.7,492.7 1186.9,503.8 1188.1,492.2 1189.2,494.8 1190.4,492.3 1191.6,496.4 1192.8,486.1 1194.0,498.4 1195.2,509.9 1196.3,514.9 1197.5,492.0 1198.7,509.8 1199.9,504.2 1201.1,496.3 1202.3,498.1 1203.4,506.6 1204.6,508.9 1205.8,500.8 1207.0,500.7 1208.2,513.0 1209.4,512.7 1210.5,509.0 1211.7,495.3 1212.9,510.8 1214.1,508.1 1215.3,495.7 1216.5,508.8 1217.6,512.4 1218.8,513.1 1220.0,491.9 1221.2,514.5 1222.4,513.6 1223.6,505.6 1224.7,504.6 1225.9,503.9 1227.1,516.3 1228.3,513.2 1229.5,516.6 1230.6,505.3 1231.8,516.3 1233.0,492.9 1234.2,514.6 1235.4,515.0 1236.6,503.5 1237.7,499.9 1238.9,516.8 1240.1,506.1 1241.3,500.6 1242.5,496.4 1243.7,502.1 1244.8,501.3 1246.0,515.3 1247.2,518.8 1248.4,516.6 1249.6,505.7 1250.8,518.9 1251.9,515.1 1253.1,506.7 1254.3,504.2 1255.5,520.0 1256.7,519.8 1257.9,506.4 1259.0,507.7 1260.2,519.7 1261.4,503.2 1262.6,517.9 1263.8,517.5 1265.0,511.6 1266.1,518.0 1267.3,510.5 1268.5,521.5 1269.7,506.3 1270.9,523.2 1272.1,519.9 1273.2,509.8 1274.4,507.5 1275.6,511.5 1276.8,502.3 1278.0,506.9 1279.2,518.0 1280.3,517.6 1281.5,525.6 1282.7,525.6 1283.9,524.2 1285.1,513.8 1286.2,513.0 1287.4,515.2 1288.6,528.5 1289.8,528.4 1291.0,516.1 1292.2,530.2 1293.3,515.7 1294.5,517.1 1295.7,512.8 1296.9,525.2 1298.1,526.0 1299.3,515.8 1300.4,517.0 1301.6,515.1 1302.8,515.8 1304.0,529.1 1305.2,528.2 1306.4,533.2 1307.5,516.8 1308.7,517.9 1309.9,535.0 1311.1,522.0 1312.3,531.5 1313.5,525.4 1314.6,536.4 1315.8,538.4 1317.0,521.5 1318.2,522.3 1319.4,534.7 1320.6,526.3 1321.7,526.4 1322.9,526.2 1324.1,528.1 1325.3,525.2 1326.5,525.3 1327.7,530.9 1328.8,541.7 1330.0,526.0 1331.2,538.0 1332.4,540.1 1333.6,541.8 1334.8,530.1 1335.9,529.1 1337.1,542.8 1338.3,531.6 1339.5,528.2 1340.7,544.5 1341.9,536.5 1343.0,546.5 1344.2,554.7 1345.4,534.8 1346.6,548.7 1347.8,544.6 1348.9,535.5 1350.1,548.9 1351.3,533.3 1352.5,538.5 1353.7,547.9 1354.9,539.0 1356.0,539.5 1357.2,550.0 1358.4,553.9 1359.6,549.9 1360.8,546.8 1362.0,540.5 1363.1,538.3 1364.3,548.2 1365.5,541.9 1366.7,541.1 1367.9,552.2 1369.1,540.4 1370.2,540.7 1371.4,553.3 1372.6,540.9 1373.8,559.4 1375.0,546.0 1376.2,548.1 1377.3,543.2 1378.5,557.4 1379.7,558.0 1380.9,550.4 1382.1,559.8 1383.3,562.2 1384.4,549.7 1385.6,557.6 1386.8,544.6 1388.0,563.2 1389.2,562.3 1390.4,549.6 1391.5,552.5 1392.7,548.7 1393.9,562.3 1395.1,554.7 1396.3,552.2 1397.5,564.1 1398.6,552.5 1399.8,554.1 1401.0,560.8 1402.2,568.0 1403.4,551.4 1404.5,556.3 1405.7,567.1 1406.9,552.5 1408.1,554.2 1409.3,570.5 1410.5,553.0 1411.6,555.5 1412.8,568.2 1414.0,566.3 1415.2,572.0 1416.4,565.0 1417.6,571.7 1418.7,563.7 1419.9,563.1 1421.1,580.5 1422.3,566.7 1423.5,561.6 1424.7,575.4 1425.8,575.5 1427.0,553.7 1428.2,560.2 1429.4,572.8 1430.6,575.7 1431.8,564.2 1432.9,576.8 1434.1,567.5 1435.3,579.6 1436.5,580.2 1437.7,564.7 1438.9,564.6 1440.0,577.3 1441.2,582.8 1442.4,567.3 1443.6,569.2 1444.8,582.2 1446.0,572.2 1447.1,569.7 1448.3,579.5 1449.5,570.8 1450.7,575.7 1451.9,584.2 1453.1,578.7 1454.2,585.3 1455.4,587.9 1456.6,582.9 1457.8,589.5 1459.0,572.9 1460.2,573.2 1461.3,568.0 1462.5,588.6 1463.7,576.1 1464.9,579.0 1466.1,588.0 1467.2,580.9 1468.4,592.5 1469.6,590.3 1470.8,589.6 1472.0,581.3 1473.2,587.8 1474.3,589.0 1475.5,580.5 1476.7,591.2 1477.9,581.0 1479.1,594.8 1480.3,591.5 1481.4,583.2 1482.6,580.5 1483.8,594.1 1485.0,595.0 1486.2,596.1 1487.4,582.7 1488.5,583.8 1489.7,598.0 1490.9,588.8 1492.1,596.7 1493.3,585.8 1494.5,600.2 1495.6,600.4 1496.8,585.5 1498.0,600.7 1499.2,594.6 1500.4,599.0 1501.6,588.4 1502.8,591.0 1504.0,598.8 1505.2,599.1 1506.4,596.0 1507.6,593.2 1508.7,610.3 1509.9,592.3 1511.1,607.8 1512.2,595.9 1513.4,600.3 1514.5,602.0 1515.7,600.4 1516.9,607.9 1518.1,608.3 1519.4,616.8 1520.6,607.4 1521.9,599.1 1523.1,619.2 1524.4,614.7 1525.7,613.2 1526.9,610.0 1528.1,601.8 1529.3,615.6 1530.5,608.2 1531.6,605.7 1532.7,616.7 1533.7,617.1 1534.7,624.0 1535.7,617.1 1536.7,618.4 1537.8,605.0 1538.8,608.5 1540.0,607.2 1541.2,620.4 1542.5,623.8 1543.8,608.0 1545.2,613.3 1546.6,610.3 1547.9,621.6 1549.2,610.2 1550.4,627.1 1551.5,620.5 1552.7,612.3 1553.9,610.8 1555.1,612.8 1556.3,614.0 1557.4,625.9 1558.6,620.6 1559.8,624.8 1561.1,615.1 1562.4,631.2 1563.8,619.8 1565.1,627.5 1566.3,626.4 1567.4,619.2 1568.3,618.8 1569.2,615.6 1570.1,622.7 1571.0,619.7 1572.1,626.1 1573.2,616.6 1574.3,627.8 1575.5,629.0 1576.6,624.9 1577.6,625.9 1578.7,635.8 1579.8,636.6 1581.0,632.8 1582.3,626.6 1583.6,639.2 1584.9,644.3 1586.0,626.5 1586.9,642.4 1587.9,637.1 1589.0,635.9 1590.3,645.0 1591.8,645.0 1593.4,632.1 1594.9,641.0 1596.2,637.9 1597.3,637.5 1598.4,633.7 1599.4,652.1 1600.6,656.1 1601.9,637.8 1603.3,648.7 1604.9,651.1 1606.6,654.8 1608.4,643.6 1610.1,643.8 1611.3,644.0 1612.4,635.5 1613.0,644.7 1613.4,630.3 1613.9,640.7 1614.5,649.1 1615.3,660.4 1616.3,662.9 1617.6,659.8 1618.9,665.6 1620.4,644.7 1621.8,651.2 1623.2,656.3 1624.5,665.6 1625.8,654.7 1627.1,656.4 1628.4,666.8 1629.7,665.9 1631.0,652.3 1632.1,670.6 1633.1,664.0 1634.1,660.4 1635.0,661.3 1635.9,676.3 1636.8,678.5 1637.7,676.9 1638.6,678.5 1639.7,680.3 1640.9,665.1 1642.3,668.8 1643.8,680.2 1645.3,676.1 1646.8,673.1 1648.2,673.3 1649.7,679.7 1651.1,684.8 1652.3,676.0 1653.4,674.2 1654.2,679.8 1654.9,688.8 1655.4,686.2 1656.1,690.2 1656.9,680.6 1658.0,690.8 1659.3,682.4 1660.7,678.7 1662.1,692.9 1663.6,696.3 1665.1,691.7 1666.7,692.9 1668.4,696.0 1670.1,698.7 1671.6,698.1 1672.9,684.7 1673.8,697.8 1674.6,687.4 1675.1,698.8 1675.7,682.6 1676.4,699.2 1677.3,705.2 1678.3,706.5 1679.5,702.9 1680.8,688.1 1682.0,694.7 1683.2,706.2 1684.3,710.6 1685.6,709.0 1687.1,698.0 1688.8,697.5 1690.7,710.3 1692.6,708.4 1694.2,706.0 1695.6,716.5 1696.8,704.3 1698.0,717.8 1699.4,719.3 1701.0,721.7 1702.6,721.1 1704.0,716.3 1705.2,716.2 1706.2,722.2 1707.0,712.4 1707.7,710.4 1708.4,727.3 1709.2,720.3 1710.0,729.1 1710.7,717.7 1711.3,716.2 1711.9,717.5 1712.7,721.1 1713.7,734.4 1715.1,721.0 1716.8,720.0 1718.9,731.9 1721.2,734.3 1723.7,724.8 1726.1,737.4 1728.0,727.0 1729.2,730.3 1730.4,742.7 1731.1,744.0 1731.0,734.4 1730.8,737.1 1730.8,731.4 1731.1,747.5 1731.8,737.5 1732.9,740.4 1734.3,743.2 1736.1,738.9 1738.1,741.3 1740.2,739.7 1742.2,745.7 1743.9,741.7 1745.1,751.5 1745.9,744.5 1746.3,756.0 1746.6,747.0 1747.0,751.7 1747.7,760.6 1748.6,752.4 1749.7,761.4 1750.6,754.0 1751.3,767.1 1751.7,768.5 1752.2,766.9 1752.9,756.5 1754.1,767.8 1755.5,772.2 1757.2,765.1 1759.1,763.9 1761.1,775.1 1763.0,768.4 1764.7,782.2 1766.4,779.7 1768.0,781.7 1769.7,769.7 1771.5,780.6 1773.2,768.1 1774.8,786.5 1776.0,784.1 1777.0,776.8 1777.9,783.1 1778.8,779.2 1780.1,795.9 1781.6,786.3 1783.3,782.9 1785.0,795.8 1786.7,785.9 1788.1,802.2 1789.2,797.3 1790.0,793.2 1790.6,790.8 1791.2,793.3 1792.1,809.8 1793.4,801.1 1795.1,800.9 1796.9,800.2 1798.5,807.9 1799.5,800.8 1799.9,818.6 1799.8,818.8 1799.6,808.0 1799.4,820.1 1799.5,815.6 1800.0,825.3 1801.0,828.4 1802.6,828.8 1804.8,829.4 1807.2,833.2 1809.7,820.2 1811.9,831.3 1813.7,823.5 1814.9,836.7 1815.6,825.8 1815.9,842.5 1816.1,828.3 1816.5,831.1 1817.1,837.8 1818.0,831.4 1819.1,836.0 1820.2,846.0 1821.0,838.9 1821.5,852.6 1822.0,839.8 1822.7,841.4 1823.9,855.6 1825.5,850.5 1827.5,845.3 1829.5,860.5 1831.4,865.0 1833.0,850.7 1834.5,869.6 1835.8,870.2 1837.3,870.2 1838.8,871.6 1840.2,870.4 1841.4,874.5 1842.5,875.6 1843.6,865.0 1844.9,867.2 1846.3,868.9 1847.5,871.9 1848.3,887.5 1848.8,878.2 1849.2,877.9 1849.8,879.2 1851.0,892.6 1852.6,887.1 1854.7,896.6 1857.1,888.1 1859.7,891.7 1862.2,894.5 1864.6,896.8 1866.2,893.6 1867.4,905.8 1868.6,914.6 1869.7,914.0 1870.8,915.6 1871.1,911.9 1871.7,915.9 1872.8,919.2 1874.3,923.8 1875.8,910.2 1876.9,915.7 1877.3,928.4 1877.1,931.9 1876.5,925.5 1876.0,939.4 1876.0,934.9 1876.6,935.0 1878.0,928.4 1880.2,946.6 1883.1,936.4 1886.2,946.0 1889.0,934.8 1891.1,948.2 1892.3,954.3 1892.7,951.4 1892.8,957.3 1893.1,951.3 1893.8,955.9 1895.1,951.4 1896.7,960.8 1898.1,957.4 1899.0,965.7 1899.3,969.7 1899.4,964.3 1899.6,968.6 1899.9,967.0 1900.4,968.4 1900.9,986.9 1901.4,980.1 1902.3,989.5 1903.5,977.6 1904.7,981.2 1905.9,982.6 1907.1,991.5 1908.8,984.9 1910.8,1002.9 1912.6,990.4 1914.0,991.4 1915.0,994.8 1915.7,1007.8 1916.4,998.9 1917.2,1008.7 1918.3,1012.2 1919.6,1014.2 1921.3,1013.2 1923.3,1013.9 1925.5,1017.2 1927.7,1022.0 1929.7,1021.9 1931.6,1020.4 1933.4,1023.0 1935.2,1031.7 1937.1,1030.9 1938.9,1047.1 1940.8,1049.3 1942.8,1037.2 1944.3,1054.7 1945.4,1047.9 1946.6,1048.7 1947.8,1054.1 1949.0,1052.3 1950.2,1062.2 1950.7,1057.4 1951.1,1058.5 1951.8,1082.7 1952.6,1063.3 1953.7,1071.6 1954.8,1074.5 1955.8,1087.5 1956.4,1088.7 1956.8,1089.4 1957.1,1093.2 1957.5,1092.6 1958.2,1100.8 1959.2,1098.6 1960.5,1098.1 1962.1,1108.2 1964.2,1104.8 1966.7,1103.5 1969.5,1121.0 1972.2,1123.5 1973.7,1118.4 1974.9,1126.2 1976.0,1119.6 1977.2,1136.1 1978.4,1133.8 1979.5,1126.3 1980.7,1134.5 1981.8,1143.8 1981.6,1141.2 1981.5,1140.1 1981.7,1156.1 1982.4,1148.3 1983.4,1162.1 1984.4,1151.1 1985.1,1165.0 1985.8,1157.9 1986.6,1162.4 1987.7,1178.8 1988.7,1179.4 1989.7,1182.7 1990.5,1180.4 1991.3,1189.7 1992.1,1192.7 1993.0,1184.8 1994.0,1193.1 1995.0,1198.9 1996.1,1208.7 1997.3,1201.1 1998.6,1204.9 1999.8,1205.5 2000.9,1222.6 2002.2,1223.2 2003.6,1216.0 2005.2,1230.7 2007.1,1225.8 2009.2,1236.9 2011.1,1241.6 2012.7,1234.8 2013.9,1237.8 2014.8,1242.0 2015.5,1257.3 2016.2,1253.3 2017.1,1258.9 2018.3,1263.4 2019.8,1226.4 2021.7,1189.2 2023.8,1233.9 2025.8,1272.0 2027.5,1280.5 2028.7,1284.0 2029.6,1285.3 2030.6,1298.0 2031.8,1297.0 2033.1,1305.6 2034.4,1300.0 2035.7,1303.5 2037.0,1307.5 2038.3,1320.4 2039.5,1328.9 2040.3,1328.5 2040.6,1332.6 2040.6,1334.1 2040.6,1332.1 2041.1,1336.5 2042.4,1346.8 2044.6,1345.2 2047.2,1348.8 2049.6,1354.8 2051.4,1355.8 2052.5,1365.2 2053.2,1373.1 2053.8,1368.1 2054.5,1375.6 2055.5,1384.7 2056.8,1385.9 2058.2,1391.6 2059.6,1388.5 2061.1,1396.2 2062.5,1404.4 2063.8,1408.7 2065.1,1404.9 2066.5,1413.5 2067.9,1420.4 2069.1,1418.2 2070.2,1428.5 2070.9,1429.9 2071.3,1427.1 2071.8,1434.7 2072.3,1440.0 2073.1,1447.6 2074.1,1448.3 2075.3,1455.8 2076.7,1455.8 2078.2,1458.9 2079.7,1462.8 2081.0,1470.2 2082.1,1474.4 2082.9,1476.3 2083.6,1482.6 2084.5,1483.9"/>
</g>
<g class="tk" font-size="121.8" stroke="#fff" stroke-width="1.1">
<text transform="scale(0.934,1)" x="340.93 408.67 442.51" y="1620.6">0.0</text>
<text transform="scale(0.934,1)" x="605.04 672.78 706.62" y="1620.6">0.1</text>
<text transform="scale(0.934,1)" x="848.25 915.99 949.83" y="1620.6">0.2</text>
<text transform="scale(0.934,1)" x="1101.18 1168.92 1202.76" y="1620.6">0.3</text>
<text transform="scale(0.934,1)" x="1353.61 1421.35 1455.19" y="1620.6">0.4</text>
<text transform="scale(0.934,1)" x="1607.70 1675.44 1709.28" y="1620.6">0.5</text>
<text transform="scale(0.934,1)" x="1861.14 1928.88 1962.72" y="1620.6">0.6</text>
<text transform="scale(0.934,1)" x="2114.85 2182.59 2216.43" y="1620.6">0.7</text>
<text transform="scale(0.934,1)" x="2367.75 2435.49 2469.33" y="1620.6">0.8</text>
<text transform="scale(0.934,1)" x="326.10" y="1531.8">0</text>
<text transform="scale(0.934,1)" x="327.47" y="1295.4">2</text>
<text transform="scale(0.934,1)" x="324.91" y="1059.5">4</text>
<text transform="scale(0.934,1)" x="326.69" y="826.3">6</text>
<text transform="scale(0.934,1)" x="326.63" y="590.3">8</text>
<text transform="scale(0.934,1)" x="261.14 326.10" y="354.5">10</text>
<text transform="scale(0.934,1)" x="263.15 327.47" y="117.9">12</text>
</g>
<g fill="#fff"><rect x="667.32" y="1609.30" width="21.79" height="12.70"/><rect x="698.13" y="1609.30" width="20.90" height="12.70"/><rect x="251.24" y="343.20" width="21.79" height="12.70"/><rect x="282.05" y="343.20" width="20.90" height="12.70"/><rect x="253.12" y="106.60" width="21.79" height="12.70"/><rect x="283.93" y="106.60" width="20.90" height="12.70"/></g>
<text class="ti" font-size="115.5" transform="scale(0.975,1)" y="1804.2" x="1098.7 1181.2 1241.2 1272.0 1307.8 1357.3 1416.8 1468.0">Voltage <tspan font-size="108.5" x="1497.1" y="1800.2">(</tspan><tspan x="1536.8" y="1804.2">V</tspan><tspan font-size="108.5" x="1621.6" y="1800.2">)</tspan></text>
<text class="ti" font-size="117.0" transform="translate(164.9,1500.0) rotate(-90) scale(0.975,1)" y="0" x="54.6 134.4 193.9 233.2 273.0 325.8 385.8 418.3 445.8 507.8 561.3 619.8 665.6 699.3 730.3 788.8 823.0 859.1 953.1 1041.5 1074.0 1102.8 1157.7">Current density (mA/ cm<tspan x="1246.3" dy="-61.2">2</tspan><tspan x="1308.2" dy="61.2">)</tspan></text>
<g class="ti" font-size="117.0">
<text transform="scale(0.96,1)" x="1420.1" y="349.6">d</text>
<text transform="scale(0.96,1)" x="1409.6" y="521.7">c</text>
<text transform="scale(0.96,1)" x="1404.4" y="689">b</text>
<text transform="scale(0.96,1)" x="1406.8" y="806.8">a</text>
</g>
<rect x="1875.4" y="130.2" width="3.6" height="3.8" fill="#777"/><rect x="1876.8" y="131.8" width="2.2" height="2.2" fill="#000"/>
</svg></body></html>
